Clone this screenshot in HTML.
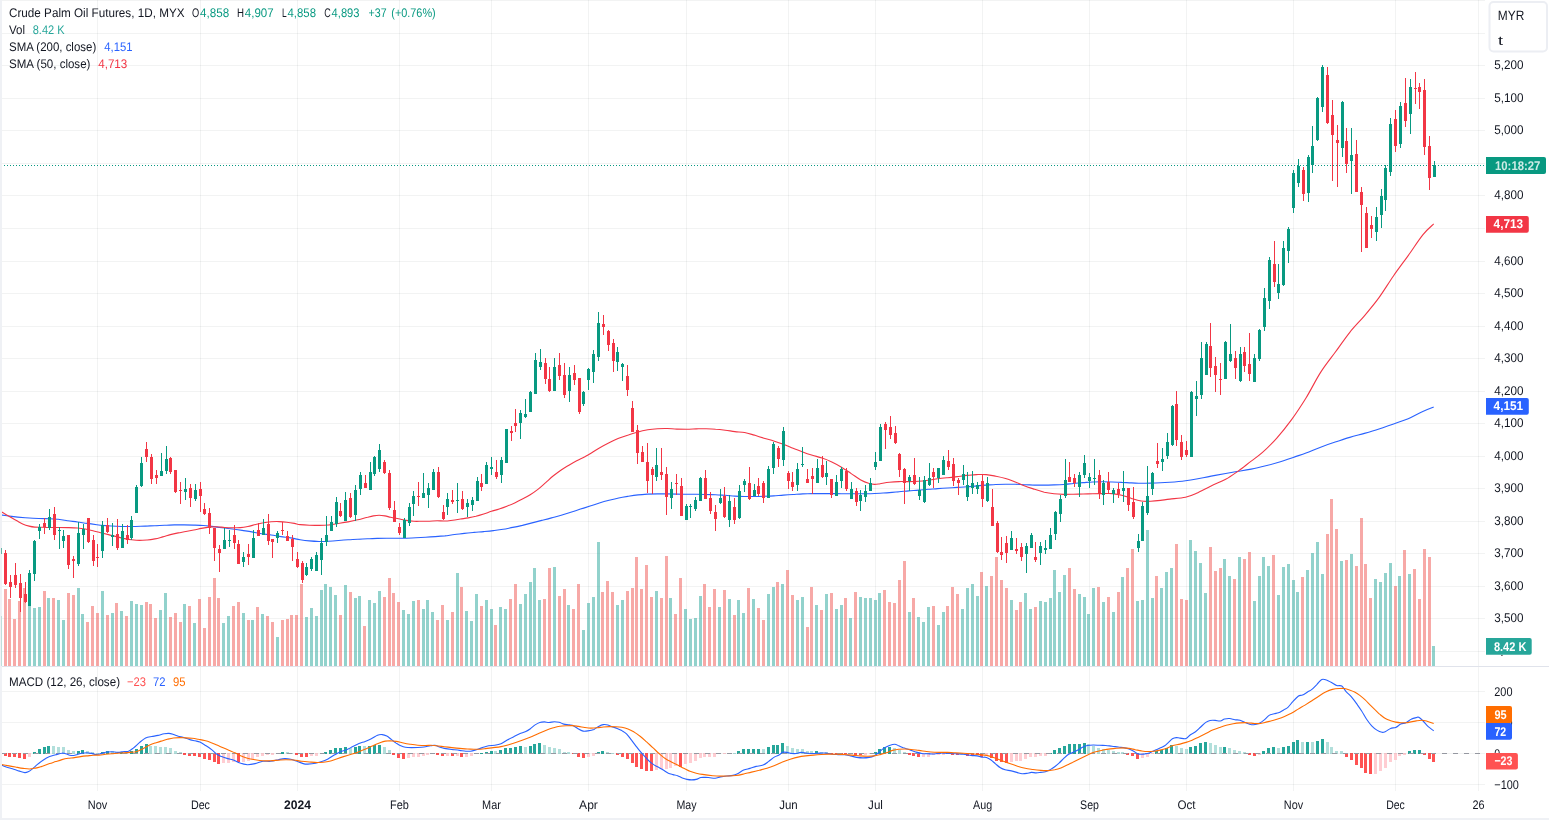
<!DOCTYPE html><html><head><meta charset="utf-8"><title>Crude Palm Oil Futures</title><style>html,body{margin:0;padding:0;background:#fff;overflow:hidden}</style></head><body><div style="will-change:transform;width:1549px;height:822px"><svg width="1549" height="822" viewBox="0 0 1549 822" style="display:block;font-family:'Liberation Sans',sans-serif" shape-rendering="crispEdges">
<rect width="1549" height="822" fill="#fff"/>
<line x1="0" y1="651.5" x2="1485" y2="651.5" stroke="rgba(42,46,57,0.06)"/>
<line x1="0" y1="618.5" x2="1485" y2="618.5" stroke="rgba(42,46,57,0.06)"/>
<line x1="0" y1="586.5" x2="1485" y2="586.5" stroke="rgba(42,46,57,0.06)"/>
<line x1="0" y1="553.5" x2="1485" y2="553.5" stroke="rgba(42,46,57,0.06)"/>
<line x1="0" y1="521.5" x2="1485" y2="521.5" stroke="rgba(42,46,57,0.06)"/>
<line x1="0" y1="488.5" x2="1485" y2="488.5" stroke="rgba(42,46,57,0.06)"/>
<line x1="0" y1="456.5" x2="1485" y2="456.5" stroke="rgba(42,46,57,0.06)"/>
<line x1="0" y1="423.5" x2="1485" y2="423.5" stroke="rgba(42,46,57,0.06)"/>
<line x1="0" y1="391.5" x2="1485" y2="391.5" stroke="rgba(42,46,57,0.06)"/>
<line x1="0" y1="358.5" x2="1485" y2="358.5" stroke="rgba(42,46,57,0.06)"/>
<line x1="0" y1="326.5" x2="1485" y2="326.5" stroke="rgba(42,46,57,0.06)"/>
<line x1="0" y1="293.5" x2="1485" y2="293.5" stroke="rgba(42,46,57,0.06)"/>
<line x1="0" y1="261.5" x2="1485" y2="261.5" stroke="rgba(42,46,57,0.06)"/>
<line x1="0" y1="228.5" x2="1485" y2="228.5" stroke="rgba(42,46,57,0.06)"/>
<line x1="0" y1="195.5" x2="1485" y2="195.5" stroke="rgba(42,46,57,0.06)"/>
<line x1="0" y1="163.5" x2="1485" y2="163.5" stroke="rgba(42,46,57,0.06)"/>
<line x1="0" y1="130.5" x2="1485" y2="130.5" stroke="rgba(42,46,57,0.06)"/>
<line x1="0" y1="98.5" x2="1485" y2="98.5" stroke="rgba(42,46,57,0.06)"/>
<line x1="0" y1="65.5" x2="1485" y2="65.5" stroke="rgba(42,46,57,0.06)"/>
<line x1="0" y1="33.5" x2="1485" y2="33.5" stroke="rgba(42,46,57,0.06)"/>
<line x1="0" y1="0.5" x2="1485" y2="0.5" stroke="rgba(42,46,57,0.06)"/>
<line x1="0" y1="691.5" x2="1485" y2="691.5" stroke="rgba(42,46,57,0.06)"/>
<line x1="0" y1="722.5" x2="1485" y2="722.5" stroke="rgba(42,46,57,0.06)"/>
<line x1="0" y1="784.5" x2="1485" y2="784.5" stroke="rgba(42,46,57,0.06)"/>
<line x1="97.5" y1="0" x2="97.5" y2="666" stroke="rgba(42,46,57,0.06)"/>
<line x1="97.5" y1="667" x2="97.5" y2="791" stroke="rgba(42,46,57,0.06)"/>
<line x1="200.5" y1="0" x2="200.5" y2="666" stroke="rgba(42,46,57,0.06)"/>
<line x1="200.5" y1="667" x2="200.5" y2="791" stroke="rgba(42,46,57,0.06)"/>
<line x1="297.5" y1="0" x2="297.5" y2="666" stroke="rgba(42,46,57,0.06)"/>
<line x1="297.5" y1="667" x2="297.5" y2="791" stroke="rgba(42,46,57,0.06)"/>
<line x1="399.5" y1="0" x2="399.5" y2="666" stroke="rgba(42,46,57,0.06)"/>
<line x1="399.5" y1="667" x2="399.5" y2="791" stroke="rgba(42,46,57,0.06)"/>
<line x1="491.5" y1="0" x2="491.5" y2="666" stroke="rgba(42,46,57,0.06)"/>
<line x1="491.5" y1="667" x2="491.5" y2="791" stroke="rgba(42,46,57,0.06)"/>
<line x1="588.5" y1="0" x2="588.5" y2="666" stroke="rgba(42,46,57,0.06)"/>
<line x1="588.5" y1="667" x2="588.5" y2="791" stroke="rgba(42,46,57,0.06)"/>
<line x1="686.5" y1="0" x2="686.5" y2="666" stroke="rgba(42,46,57,0.06)"/>
<line x1="686.5" y1="667" x2="686.5" y2="791" stroke="rgba(42,46,57,0.06)"/>
<line x1="788.5" y1="0" x2="788.5" y2="666" stroke="rgba(42,46,57,0.06)"/>
<line x1="788.5" y1="667" x2="788.5" y2="791" stroke="rgba(42,46,57,0.06)"/>
<line x1="875.5" y1="0" x2="875.5" y2="666" stroke="rgba(42,46,57,0.06)"/>
<line x1="875.5" y1="667" x2="875.5" y2="791" stroke="rgba(42,46,57,0.06)"/>
<line x1="982.5" y1="0" x2="982.5" y2="666" stroke="rgba(42,46,57,0.06)"/>
<line x1="982.5" y1="667" x2="982.5" y2="791" stroke="rgba(42,46,57,0.06)"/>
<line x1="1089.5" y1="0" x2="1089.5" y2="666" stroke="rgba(42,46,57,0.06)"/>
<line x1="1089.5" y1="667" x2="1089.5" y2="791" stroke="rgba(42,46,57,0.06)"/>
<line x1="1186.5" y1="0" x2="1186.5" y2="666" stroke="rgba(42,46,57,0.06)"/>
<line x1="1186.5" y1="667" x2="1186.5" y2="791" stroke="rgba(42,46,57,0.06)"/>
<line x1="1293.5" y1="0" x2="1293.5" y2="666" stroke="rgba(42,46,57,0.06)"/>
<line x1="1293.5" y1="667" x2="1293.5" y2="791" stroke="rgba(42,46,57,0.06)"/>
<line x1="1395.5" y1="0" x2="1395.5" y2="666" stroke="rgba(42,46,57,0.06)"/>
<line x1="1395.5" y1="667" x2="1395.5" y2="791" stroke="rgba(42,46,57,0.06)"/>
<line x1="1478.5" y1="0" x2="1478.5" y2="666" stroke="rgba(42,46,57,0.06)"/>
<line x1="1478.5" y1="667" x2="1478.5" y2="791" stroke="rgba(42,46,57,0.06)"/>
<rect x="4" y="589" width="3" height="77" fill="rgba(239,83,80,0.5)"/>
<rect x="8" y="599" width="3" height="67" fill="rgba(239,83,80,0.5)"/>
<rect x="13" y="619" width="3" height="47" fill="rgba(239,83,80,0.5)"/>
<rect x="18" y="601" width="3" height="65" fill="rgba(239,83,80,0.5)"/>
<rect x="23" y="588" width="3" height="78" fill="rgba(239,83,80,0.5)"/>
<rect x="28" y="606" width="3" height="60" fill="rgba(38,166,154,0.5)"/>
<rect x="33" y="608" width="3" height="58" fill="rgba(38,166,154,0.5)"/>
<rect x="38" y="607" width="3" height="59" fill="rgba(38,166,154,0.5)"/>
<rect x="43" y="591" width="3" height="75" fill="rgba(239,83,80,0.5)"/>
<rect x="47" y="598" width="3" height="68" fill="rgba(38,166,154,0.5)"/>
<rect x="52" y="598" width="3" height="68" fill="rgba(239,83,80,0.5)"/>
<rect x="57" y="600" width="3" height="66" fill="rgba(38,166,154,0.5)"/>
<rect x="62" y="620" width="3" height="46" fill="rgba(38,166,154,0.5)"/>
<rect x="67" y="593" width="3" height="73" fill="rgba(239,83,80,0.5)"/>
<rect x="72" y="595" width="3" height="71" fill="rgba(239,83,80,0.5)"/>
<rect x="77" y="588" width="3" height="78" fill="rgba(38,166,154,0.5)"/>
<rect x="81" y="614" width="3" height="52" fill="rgba(38,166,154,0.5)"/>
<rect x="86" y="622" width="3" height="44" fill="rgba(239,83,80,0.5)"/>
<rect x="91" y="606" width="3" height="60" fill="rgba(239,83,80,0.5)"/>
<rect x="96" y="613" width="3" height="53" fill="rgba(239,83,80,0.5)"/>
<rect x="101" y="591" width="3" height="75" fill="rgba(38,166,154,0.5)"/>
<rect x="106" y="615" width="3" height="51" fill="rgba(239,83,80,0.5)"/>
<rect x="111" y="613" width="3" height="53" fill="rgba(38,166,154,0.5)"/>
<rect x="115" y="603" width="3" height="63" fill="rgba(239,83,80,0.5)"/>
<rect x="120" y="611" width="3" height="55" fill="rgba(38,166,154,0.5)"/>
<rect x="125" y="616" width="3" height="50" fill="rgba(239,83,80,0.5)"/>
<rect x="130" y="601" width="3" height="65" fill="rgba(38,166,154,0.5)"/>
<rect x="135" y="604" width="3" height="62" fill="rgba(38,166,154,0.5)"/>
<rect x="140" y="605" width="3" height="61" fill="rgba(38,166,154,0.5)"/>
<rect x="145" y="602" width="3" height="64" fill="rgba(239,83,80,0.5)"/>
<rect x="149" y="604" width="3" height="62" fill="rgba(239,83,80,0.5)"/>
<rect x="154" y="618" width="3" height="48" fill="rgba(239,83,80,0.5)"/>
<rect x="159" y="610" width="3" height="56" fill="rgba(38,166,154,0.5)"/>
<rect x="164" y="593" width="3" height="73" fill="rgba(38,166,154,0.5)"/>
<rect x="169" y="617" width="3" height="49" fill="rgba(239,83,80,0.5)"/>
<rect x="174" y="613" width="3" height="53" fill="rgba(239,83,80,0.5)"/>
<rect x="179" y="622" width="3" height="44" fill="rgba(239,83,80,0.5)"/>
<rect x="183" y="604" width="3" height="62" fill="rgba(38,166,154,0.5)"/>
<rect x="188" y="606" width="3" height="60" fill="rgba(239,83,80,0.5)"/>
<rect x="193" y="623" width="3" height="43" fill="rgba(38,166,154,0.5)"/>
<rect x="198" y="599" width="3" height="67" fill="rgba(239,83,80,0.5)"/>
<rect x="203" y="628" width="3" height="38" fill="rgba(239,83,80,0.5)"/>
<rect x="208" y="597" width="3" height="69" fill="rgba(239,83,80,0.5)"/>
<rect x="213" y="578" width="3" height="88" fill="rgba(239,83,80,0.5)"/>
<rect x="217" y="598" width="3" height="68" fill="rgba(239,83,80,0.5)"/>
<rect x="222" y="623" width="3" height="43" fill="rgba(38,166,154,0.5)"/>
<rect x="227" y="616" width="3" height="50" fill="rgba(38,166,154,0.5)"/>
<rect x="232" y="606" width="3" height="60" fill="rgba(239,83,80,0.5)"/>
<rect x="237" y="602" width="3" height="64" fill="rgba(239,83,80,0.5)"/>
<rect x="242" y="613" width="3" height="53" fill="rgba(38,166,154,0.5)"/>
<rect x="247" y="620" width="3" height="46" fill="rgba(239,83,80,0.5)"/>
<rect x="251" y="620" width="3" height="46" fill="rgba(38,166,154,0.5)"/>
<rect x="256" y="607" width="3" height="59" fill="rgba(239,83,80,0.5)"/>
<rect x="261" y="614" width="3" height="52" fill="rgba(38,166,154,0.5)"/>
<rect x="266" y="616" width="3" height="50" fill="rgba(239,83,80,0.5)"/>
<rect x="271" y="622" width="3" height="44" fill="rgba(239,83,80,0.5)"/>
<rect x="276" y="637" width="3" height="29" fill="rgba(38,166,154,0.5)"/>
<rect x="281" y="620" width="3" height="46" fill="rgba(239,83,80,0.5)"/>
<rect x="286" y="619" width="3" height="47" fill="rgba(239,83,80,0.5)"/>
<rect x="290" y="615" width="3" height="51" fill="rgba(239,83,80,0.5)"/>
<rect x="295" y="615" width="3" height="51" fill="rgba(239,83,80,0.5)"/>
<rect x="300" y="584" width="3" height="82" fill="rgba(239,83,80,0.5)"/>
<rect x="305" y="617" width="3" height="49" fill="rgba(38,166,154,0.5)"/>
<rect x="310" y="608" width="3" height="58" fill="rgba(38,166,154,0.5)"/>
<rect x="315" y="616" width="3" height="50" fill="rgba(38,166,154,0.5)"/>
<rect x="320" y="590" width="3" height="76" fill="rgba(38,166,154,0.5)"/>
<rect x="324" y="584" width="3" height="82" fill="rgba(38,166,154,0.5)"/>
<rect x="329" y="587" width="3" height="79" fill="rgba(38,166,154,0.5)"/>
<rect x="334" y="595" width="3" height="71" fill="rgba(38,166,154,0.5)"/>
<rect x="339" y="615" width="3" height="51" fill="rgba(239,83,80,0.5)"/>
<rect x="344" y="585" width="3" height="81" fill="rgba(38,166,154,0.5)"/>
<rect x="349" y="592" width="3" height="74" fill="rgba(239,83,80,0.5)"/>
<rect x="354" y="598" width="3" height="68" fill="rgba(38,166,154,0.5)"/>
<rect x="358" y="596" width="3" height="70" fill="rgba(38,166,154,0.5)"/>
<rect x="363" y="626" width="3" height="40" fill="rgba(239,83,80,0.5)"/>
<rect x="368" y="600" width="3" height="66" fill="rgba(38,166,154,0.5)"/>
<rect x="373" y="603" width="3" height="63" fill="rgba(38,166,154,0.5)"/>
<rect x="378" y="591" width="3" height="75" fill="rgba(38,166,154,0.5)"/>
<rect x="383" y="597" width="3" height="69" fill="rgba(239,83,80,0.5)"/>
<rect x="388" y="578" width="3" height="88" fill="rgba(239,83,80,0.5)"/>
<rect x="392" y="593" width="3" height="73" fill="rgba(239,83,80,0.5)"/>
<rect x="397" y="602" width="3" height="64" fill="rgba(239,83,80,0.5)"/>
<rect x="402" y="610" width="3" height="56" fill="rgba(38,166,154,0.5)"/>
<rect x="407" y="614" width="3" height="52" fill="rgba(38,166,154,0.5)"/>
<rect x="412" y="601" width="3" height="65" fill="rgba(38,166,154,0.5)"/>
<rect x="417" y="600" width="3" height="66" fill="rgba(239,83,80,0.5)"/>
<rect x="422" y="609" width="3" height="57" fill="rgba(38,166,154,0.5)"/>
<rect x="426" y="600" width="3" height="66" fill="rgba(38,166,154,0.5)"/>
<rect x="431" y="612" width="3" height="54" fill="rgba(38,166,154,0.5)"/>
<rect x="436" y="620" width="3" height="46" fill="rgba(239,83,80,0.5)"/>
<rect x="441" y="605" width="3" height="61" fill="rgba(239,83,80,0.5)"/>
<rect x="446" y="620" width="3" height="46" fill="rgba(38,166,154,0.5)"/>
<rect x="451" y="612" width="3" height="54" fill="rgba(239,83,80,0.5)"/>
<rect x="456" y="573" width="3" height="93" fill="rgba(38,166,154,0.5)"/>
<rect x="460" y="587" width="3" height="79" fill="rgba(239,83,80,0.5)"/>
<rect x="465" y="611" width="3" height="55" fill="rgba(38,166,154,0.5)"/>
<rect x="470" y="621" width="3" height="45" fill="rgba(38,166,154,0.5)"/>
<rect x="475" y="594" width="3" height="72" fill="rgba(38,166,154,0.5)"/>
<rect x="480" y="606" width="3" height="60" fill="rgba(239,83,80,0.5)"/>
<rect x="485" y="600" width="3" height="66" fill="rgba(38,166,154,0.5)"/>
<rect x="490" y="609" width="3" height="57" fill="rgba(38,166,154,0.5)"/>
<rect x="494" y="625" width="3" height="41" fill="rgba(239,83,80,0.5)"/>
<rect x="499" y="607" width="3" height="59" fill="rgba(38,166,154,0.5)"/>
<rect x="504" y="609" width="3" height="57" fill="rgba(38,166,154,0.5)"/>
<rect x="509" y="599" width="3" height="67" fill="rgba(239,83,80,0.5)"/>
<rect x="514" y="584" width="3" height="82" fill="rgba(239,83,80,0.5)"/>
<rect x="519" y="604" width="3" height="62" fill="rgba(38,166,154,0.5)"/>
<rect x="524" y="594" width="3" height="72" fill="rgba(38,166,154,0.5)"/>
<rect x="529" y="582" width="3" height="84" fill="rgba(38,166,154,0.5)"/>
<rect x="533" y="568" width="3" height="98" fill="rgba(38,166,154,0.5)"/>
<rect x="538" y="600" width="3" height="66" fill="rgba(38,166,154,0.5)"/>
<rect x="543" y="599" width="3" height="67" fill="rgba(239,83,80,0.5)"/>
<rect x="548" y="568" width="3" height="98" fill="rgba(239,83,80,0.5)"/>
<rect x="553" y="567" width="3" height="99" fill="rgba(38,166,154,0.5)"/>
<rect x="558" y="596" width="3" height="70" fill="rgba(239,83,80,0.5)"/>
<rect x="563" y="589" width="3" height="77" fill="rgba(239,83,80,0.5)"/>
<rect x="567" y="605" width="3" height="61" fill="rgba(38,166,154,0.5)"/>
<rect x="572" y="609" width="3" height="57" fill="rgba(239,83,80,0.5)"/>
<rect x="577" y="584" width="3" height="82" fill="rgba(239,83,80,0.5)"/>
<rect x="582" y="630" width="3" height="36" fill="rgba(38,166,154,0.5)"/>
<rect x="587" y="603" width="3" height="63" fill="rgba(38,166,154,0.5)"/>
<rect x="592" y="597" width="3" height="69" fill="rgba(38,166,154,0.5)"/>
<rect x="597" y="542" width="3" height="124" fill="rgba(38,166,154,0.5)"/>
<rect x="601" y="592" width="3" height="74" fill="rgba(239,83,80,0.5)"/>
<rect x="606" y="581" width="3" height="85" fill="rgba(239,83,80,0.5)"/>
<rect x="611" y="592" width="3" height="74" fill="rgba(239,83,80,0.5)"/>
<rect x="616" y="605" width="3" height="61" fill="rgba(38,166,154,0.5)"/>
<rect x="621" y="600" width="3" height="66" fill="rgba(38,166,154,0.5)"/>
<rect x="626" y="591" width="3" height="75" fill="rgba(239,83,80,0.5)"/>
<rect x="631" y="588" width="3" height="78" fill="rgba(239,83,80,0.5)"/>
<rect x="635" y="557" width="3" height="109" fill="rgba(239,83,80,0.5)"/>
<rect x="640" y="589" width="3" height="77" fill="rgba(239,83,80,0.5)"/>
<rect x="645" y="565" width="3" height="101" fill="rgba(239,83,80,0.5)"/>
<rect x="650" y="597" width="3" height="69" fill="rgba(239,83,80,0.5)"/>
<rect x="655" y="591" width="3" height="75" fill="rgba(38,166,154,0.5)"/>
<rect x="660" y="598" width="3" height="68" fill="rgba(239,83,80,0.5)"/>
<rect x="665" y="556" width="3" height="110" fill="rgba(239,83,80,0.5)"/>
<rect x="669" y="598" width="3" height="68" fill="rgba(38,166,154,0.5)"/>
<rect x="674" y="614" width="3" height="52" fill="rgba(239,83,80,0.5)"/>
<rect x="679" y="578" width="3" height="88" fill="rgba(239,83,80,0.5)"/>
<rect x="684" y="609" width="3" height="57" fill="rgba(38,166,154,0.5)"/>
<rect x="689" y="619" width="3" height="47" fill="rgba(38,166,154,0.5)"/>
<rect x="694" y="618" width="3" height="48" fill="rgba(38,166,154,0.5)"/>
<rect x="699" y="596" width="3" height="70" fill="rgba(38,166,154,0.5)"/>
<rect x="703" y="584" width="3" height="82" fill="rgba(239,83,80,0.5)"/>
<rect x="708" y="607" width="3" height="59" fill="rgba(239,83,80,0.5)"/>
<rect x="713" y="589" width="3" height="77" fill="rgba(239,83,80,0.5)"/>
<rect x="718" y="607" width="3" height="59" fill="rgba(38,166,154,0.5)"/>
<rect x="723" y="590" width="3" height="76" fill="rgba(239,83,80,0.5)"/>
<rect x="728" y="599" width="3" height="67" fill="rgba(38,166,154,0.5)"/>
<rect x="733" y="615" width="3" height="51" fill="rgba(239,83,80,0.5)"/>
<rect x="737" y="600" width="3" height="66" fill="rgba(38,166,154,0.5)"/>
<rect x="742" y="613" width="3" height="53" fill="rgba(38,166,154,0.5)"/>
<rect x="747" y="588" width="3" height="78" fill="rgba(239,83,80,0.5)"/>
<rect x="752" y="599" width="3" height="67" fill="rgba(38,166,154,0.5)"/>
<rect x="757" y="608" width="3" height="58" fill="rgba(239,83,80,0.5)"/>
<rect x="762" y="620" width="3" height="46" fill="rgba(239,83,80,0.5)"/>
<rect x="767" y="594" width="3" height="72" fill="rgba(38,166,154,0.5)"/>
<rect x="772" y="587" width="3" height="79" fill="rgba(38,166,154,0.5)"/>
<rect x="776" y="582" width="3" height="84" fill="rgba(239,83,80,0.5)"/>
<rect x="781" y="584" width="3" height="82" fill="rgba(38,166,154,0.5)"/>
<rect x="786" y="570" width="3" height="96" fill="rgba(239,83,80,0.5)"/>
<rect x="791" y="595" width="3" height="71" fill="rgba(239,83,80,0.5)"/>
<rect x="796" y="600" width="3" height="66" fill="rgba(38,166,154,0.5)"/>
<rect x="801" y="597" width="3" height="69" fill="rgba(38,166,154,0.5)"/>
<rect x="806" y="627" width="3" height="39" fill="rgba(239,83,80,0.5)"/>
<rect x="810" y="587" width="3" height="79" fill="rgba(239,83,80,0.5)"/>
<rect x="815" y="605" width="3" height="61" fill="rgba(38,166,154,0.5)"/>
<rect x="820" y="610" width="3" height="56" fill="rgba(239,83,80,0.5)"/>
<rect x="825" y="594" width="3" height="72" fill="rgba(38,166,154,0.5)"/>
<rect x="830" y="593" width="3" height="73" fill="rgba(239,83,80,0.5)"/>
<rect x="835" y="609" width="3" height="57" fill="rgba(38,166,154,0.5)"/>
<rect x="840" y="605" width="3" height="61" fill="rgba(38,166,154,0.5)"/>
<rect x="844" y="598" width="3" height="68" fill="rgba(239,83,80,0.5)"/>
<rect x="849" y="618" width="3" height="48" fill="rgba(38,166,154,0.5)"/>
<rect x="854" y="592" width="3" height="74" fill="rgba(239,83,80,0.5)"/>
<rect x="859" y="597" width="3" height="69" fill="rgba(38,166,154,0.5)"/>
<rect x="864" y="598" width="3" height="68" fill="rgba(38,166,154,0.5)"/>
<rect x="869" y="598" width="3" height="68" fill="rgba(38,166,154,0.5)"/>
<rect x="874" y="600" width="3" height="66" fill="rgba(38,166,154,0.5)"/>
<rect x="878" y="593" width="3" height="73" fill="rgba(38,166,154,0.5)"/>
<rect x="883" y="590" width="3" height="76" fill="rgba(239,83,80,0.5)"/>
<rect x="888" y="602" width="3" height="64" fill="rgba(239,83,80,0.5)"/>
<rect x="893" y="603" width="3" height="63" fill="rgba(239,83,80,0.5)"/>
<rect x="898" y="580" width="3" height="86" fill="rgba(239,83,80,0.5)"/>
<rect x="903" y="561" width="3" height="105" fill="rgba(239,83,80,0.5)"/>
<rect x="908" y="612" width="3" height="54" fill="rgba(38,166,154,0.5)"/>
<rect x="912" y="598" width="3" height="68" fill="rgba(239,83,80,0.5)"/>
<rect x="917" y="617" width="3" height="49" fill="rgba(38,166,154,0.5)"/>
<rect x="922" y="622" width="3" height="44" fill="rgba(38,166,154,0.5)"/>
<rect x="927" y="607" width="3" height="59" fill="rgba(38,166,154,0.5)"/>
<rect x="932" y="606" width="3" height="60" fill="rgba(239,83,80,0.5)"/>
<rect x="937" y="625" width="3" height="41" fill="rgba(38,166,154,0.5)"/>
<rect x="942" y="612" width="3" height="54" fill="rgba(38,166,154,0.5)"/>
<rect x="946" y="606" width="3" height="60" fill="rgba(239,83,80,0.5)"/>
<rect x="951" y="587" width="3" height="79" fill="rgba(239,83,80,0.5)"/>
<rect x="956" y="594" width="3" height="72" fill="rgba(239,83,80,0.5)"/>
<rect x="961" y="609" width="3" height="57" fill="rgba(38,166,154,0.5)"/>
<rect x="966" y="588" width="3" height="78" fill="rgba(38,166,154,0.5)"/>
<rect x="971" y="584" width="3" height="82" fill="rgba(38,166,154,0.5)"/>
<rect x="976" y="596" width="3" height="70" fill="rgba(38,166,154,0.5)"/>
<rect x="980" y="572" width="3" height="94" fill="rgba(239,83,80,0.5)"/>
<rect x="985" y="586" width="3" height="80" fill="rgba(38,166,154,0.5)"/>
<rect x="990" y="576" width="3" height="90" fill="rgba(239,83,80,0.5)"/>
<rect x="995" y="557" width="3" height="109" fill="rgba(239,83,80,0.5)"/>
<rect x="1000" y="580" width="3" height="86" fill="rgba(239,83,80,0.5)"/>
<rect x="1005" y="588" width="3" height="78" fill="rgba(239,83,80,0.5)"/>
<rect x="1010" y="600" width="3" height="66" fill="rgba(38,166,154,0.5)"/>
<rect x="1015" y="610" width="3" height="56" fill="rgba(239,83,80,0.5)"/>
<rect x="1019" y="602" width="3" height="64" fill="rgba(239,83,80,0.5)"/>
<rect x="1024" y="593" width="3" height="73" fill="rgba(38,166,154,0.5)"/>
<rect x="1029" y="609" width="3" height="57" fill="rgba(38,166,154,0.5)"/>
<rect x="1034" y="607" width="3" height="59" fill="rgba(239,83,80,0.5)"/>
<rect x="1039" y="601" width="3" height="65" fill="rgba(38,166,154,0.5)"/>
<rect x="1044" y="602" width="3" height="64" fill="rgba(38,166,154,0.5)"/>
<rect x="1049" y="598" width="3" height="68" fill="rgba(38,166,154,0.5)"/>
<rect x="1053" y="570" width="3" height="96" fill="rgba(38,166,154,0.5)"/>
<rect x="1058" y="592" width="3" height="74" fill="rgba(38,166,154,0.5)"/>
<rect x="1063" y="575" width="3" height="91" fill="rgba(38,166,154,0.5)"/>
<rect x="1068" y="568" width="3" height="98" fill="rgba(239,83,80,0.5)"/>
<rect x="1073" y="589" width="3" height="77" fill="rgba(239,83,80,0.5)"/>
<rect x="1078" y="594" width="3" height="72" fill="rgba(38,166,154,0.5)"/>
<rect x="1083" y="597" width="3" height="69" fill="rgba(38,166,154,0.5)"/>
<rect x="1087" y="614" width="3" height="52" fill="rgba(38,166,154,0.5)"/>
<rect x="1092" y="588" width="3" height="78" fill="rgba(38,166,154,0.5)"/>
<rect x="1097" y="587" width="3" height="79" fill="rgba(239,83,80,0.5)"/>
<rect x="1102" y="602" width="3" height="64" fill="rgba(38,166,154,0.5)"/>
<rect x="1107" y="597" width="3" height="69" fill="rgba(239,83,80,0.5)"/>
<rect x="1112" y="612" width="3" height="54" fill="rgba(38,166,154,0.5)"/>
<rect x="1117" y="592" width="3" height="74" fill="rgba(239,83,80,0.5)"/>
<rect x="1121" y="577" width="3" height="89" fill="rgba(38,166,154,0.5)"/>
<rect x="1126" y="568" width="3" height="98" fill="rgba(239,83,80,0.5)"/>
<rect x="1131" y="549" width="3" height="117" fill="rgba(239,83,80,0.5)"/>
<rect x="1136" y="601" width="3" height="65" fill="rgba(38,166,154,0.5)"/>
<rect x="1141" y="600" width="3" height="66" fill="rgba(38,166,154,0.5)"/>
<rect x="1146" y="530" width="3" height="136" fill="rgba(38,166,154,0.5)"/>
<rect x="1151" y="598" width="3" height="68" fill="rgba(38,166,154,0.5)"/>
<rect x="1155" y="576" width="3" height="90" fill="rgba(239,83,80,0.5)"/>
<rect x="1160" y="588" width="3" height="78" fill="rgba(38,166,154,0.5)"/>
<rect x="1165" y="572" width="3" height="94" fill="rgba(38,166,154,0.5)"/>
<rect x="1170" y="568" width="3" height="98" fill="rgba(38,166,154,0.5)"/>
<rect x="1175" y="544" width="3" height="122" fill="rgba(239,83,80,0.5)"/>
<rect x="1180" y="599" width="3" height="67" fill="rgba(239,83,80,0.5)"/>
<rect x="1185" y="600" width="3" height="66" fill="rgba(239,83,80,0.5)"/>
<rect x="1189" y="540" width="3" height="126" fill="rgba(38,166,154,0.5)"/>
<rect x="1194" y="551" width="3" height="115" fill="rgba(38,166,154,0.5)"/>
<rect x="1199" y="563" width="3" height="103" fill="rgba(38,166,154,0.5)"/>
<rect x="1204" y="593" width="3" height="73" fill="rgba(38,166,154,0.5)"/>
<rect x="1209" y="547" width="3" height="119" fill="rgba(239,83,80,0.5)"/>
<rect x="1214" y="571" width="3" height="95" fill="rgba(239,83,80,0.5)"/>
<rect x="1219" y="568" width="3" height="98" fill="rgba(239,83,80,0.5)"/>
<rect x="1223" y="559" width="3" height="107" fill="rgba(38,166,154,0.5)"/>
<rect x="1228" y="576" width="3" height="90" fill="rgba(38,166,154,0.5)"/>
<rect x="1233" y="579" width="3" height="87" fill="rgba(239,83,80,0.5)"/>
<rect x="1238" y="557" width="3" height="109" fill="rgba(38,166,154,0.5)"/>
<rect x="1243" y="559" width="3" height="107" fill="rgba(239,83,80,0.5)"/>
<rect x="1248" y="552" width="3" height="114" fill="rgba(239,83,80,0.5)"/>
<rect x="1253" y="601" width="3" height="65" fill="rgba(38,166,154,0.5)"/>
<rect x="1258" y="576" width="3" height="90" fill="rgba(38,166,154,0.5)"/>
<rect x="1262" y="557" width="3" height="109" fill="rgba(38,166,154,0.5)"/>
<rect x="1267" y="566" width="3" height="100" fill="rgba(38,166,154,0.5)"/>
<rect x="1272" y="555" width="3" height="111" fill="rgba(239,83,80,0.5)"/>
<rect x="1277" y="595" width="3" height="71" fill="rgba(38,166,154,0.5)"/>
<rect x="1282" y="567" width="3" height="99" fill="rgba(38,166,154,0.5)"/>
<rect x="1287" y="564" width="3" height="102" fill="rgba(38,166,154,0.5)"/>
<rect x="1292" y="580" width="3" height="86" fill="rgba(38,166,154,0.5)"/>
<rect x="1296" y="592" width="3" height="74" fill="rgba(38,166,154,0.5)"/>
<rect x="1301" y="577" width="3" height="89" fill="rgba(239,83,80,0.5)"/>
<rect x="1306" y="570" width="3" height="96" fill="rgba(38,166,154,0.5)"/>
<rect x="1311" y="553" width="3" height="113" fill="rgba(38,166,154,0.5)"/>
<rect x="1316" y="542" width="3" height="124" fill="rgba(38,166,154,0.5)"/>
<rect x="1321" y="574" width="3" height="92" fill="rgba(38,166,154,0.5)"/>
<rect x="1326" y="534" width="3" height="132" fill="rgba(239,83,80,0.5)"/>
<rect x="1330" y="499" width="3" height="167" fill="rgba(239,83,80,0.5)"/>
<rect x="1335" y="529" width="3" height="137" fill="rgba(239,83,80,0.5)"/>
<rect x="1340" y="561" width="3" height="105" fill="rgba(38,166,154,0.5)"/>
<rect x="1345" y="560" width="3" height="106" fill="rgba(239,83,80,0.5)"/>
<rect x="1350" y="554" width="3" height="112" fill="rgba(38,166,154,0.5)"/>
<rect x="1355" y="566" width="3" height="100" fill="rgba(239,83,80,0.5)"/>
<rect x="1360" y="518" width="3" height="148" fill="rgba(239,83,80,0.5)"/>
<rect x="1364" y="564" width="3" height="102" fill="rgba(239,83,80,0.5)"/>
<rect x="1369" y="598" width="3" height="68" fill="rgba(239,83,80,0.5)"/>
<rect x="1374" y="579" width="3" height="87" fill="rgba(38,166,154,0.5)"/>
<rect x="1379" y="582" width="3" height="84" fill="rgba(38,166,154,0.5)"/>
<rect x="1384" y="573" width="3" height="93" fill="rgba(38,166,154,0.5)"/>
<rect x="1389" y="563" width="3" height="103" fill="rgba(38,166,154,0.5)"/>
<rect x="1394" y="586" width="3" height="80" fill="rgba(239,83,80,0.5)"/>
<rect x="1398" y="576" width="3" height="90" fill="rgba(38,166,154,0.5)"/>
<rect x="1403" y="550" width="3" height="116" fill="rgba(239,83,80,0.5)"/>
<rect x="1408" y="574" width="3" height="92" fill="rgba(38,166,154,0.5)"/>
<rect x="1413" y="569" width="3" height="97" fill="rgba(239,83,80,0.5)"/>
<rect x="1418" y="599" width="3" height="67" fill="rgba(239,83,80,0.5)"/>
<rect x="1423" y="549" width="3" height="117" fill="rgba(239,83,80,0.5)"/>
<rect x="1428" y="557" width="3" height="109" fill="rgba(239,83,80,0.5)"/>
<rect x="1432" y="646" width="3" height="20" fill="rgba(38,166,154,0.5)"/>
<path d="M1.0,514.9 C2.8,515.1 7.6,515.9 11.6,516.4 C15.6,516.9 20.7,517.4 25.2,517.8 C29.7,518.1 34.5,518.4 38.7,518.5 C42.9,518.6 47.2,518.6 50.4,518.7 C53.6,518.8 55.2,519.0 58.1,519.3 C61.0,519.6 64.6,520.2 67.8,520.7 C71.0,521.2 74.3,521.5 77.5,522.0 C80.7,522.5 84.0,522.9 87.2,523.4 C90.4,523.9 93.6,524.3 96.8,524.7 C100.0,525.1 103.3,525.4 106.5,525.7 C109.7,526.0 113.0,526.2 116.2,526.3 C119.4,526.4 122.7,526.5 125.9,526.5 C129.1,526.5 132.4,526.6 135.6,526.5 C138.8,526.4 142.1,526.2 145.3,526.1 C148.5,526.0 151.7,525.8 154.9,525.7 C158.1,525.6 161.4,525.4 164.6,525.3 C167.8,525.2 171.1,525.0 174.3,524.9 C177.5,524.8 180.8,524.9 184.0,524.9 C187.2,524.9 190.5,525.0 193.7,525.1 C196.9,525.2 200.8,525.3 203.4,525.5 C206.0,525.7 206.9,525.8 209.2,526.1 C211.4,526.4 214.3,526.8 216.9,527.1 C219.5,527.4 222.1,527.7 224.7,528.0 C227.3,528.3 229.5,528.6 232.4,529.0 C235.3,529.4 238.9,529.9 242.1,530.4 C245.3,530.9 248.6,531.3 251.8,531.9 C255.0,532.5 258.3,533.2 261.5,533.7 C264.7,534.2 268.0,534.5 271.2,535.0 C274.4,535.5 277.6,536.1 280.8,536.6 C284.0,537.1 287.3,537.4 290.5,537.9 C293.7,538.4 297.0,539.2 300.1,539.7 C303.2,540.2 306.2,540.6 309.4,540.9 C312.6,541.2 315.9,541.4 319.1,541.5 C322.3,541.6 325.5,541.5 328.7,541.3 C331.9,541.1 335.2,540.8 338.4,540.5 C341.6,540.2 344.9,539.9 348.1,539.7 C351.3,539.5 354.6,539.4 357.8,539.2 C361.0,539.1 364.3,538.9 367.5,538.8 C370.7,538.7 374.0,538.5 377.2,538.4 C380.4,538.3 383.6,538.2 386.8,538.2 C390.0,538.2 393.3,538.2 396.5,538.2 C399.7,538.2 403.0,538.3 406.2,538.2 C409.4,538.1 412.7,538.0 415.9,537.8 C419.1,537.6 422.4,537.4 425.6,537.2 C428.8,537.0 432.1,536.8 435.3,536.6 C438.5,536.4 441.7,536.2 444.9,535.9 C448.1,535.5 451.4,534.9 454.6,534.5 C457.8,534.1 461.1,533.8 464.3,533.4 C467.5,533.0 470.8,532.7 474.0,532.4 C477.2,532.1 480.5,531.9 483.7,531.6 C486.9,531.3 490.2,531.0 493.4,530.6 C496.6,530.2 499.9,529.8 503.1,529.3 C506.3,528.8 509.5,528.0 512.7,527.4 C515.9,526.8 519.2,526.1 522.4,525.4 C525.6,524.6 528.9,523.7 532.1,522.9 C535.3,522.1 538.6,521.2 541.8,520.4 C545.0,519.6 548.3,518.8 551.5,517.9 C554.7,517.0 558.0,516.2 561.2,515.2 C564.4,514.2 567.6,513.2 570.8,512.2 C574.0,511.2 577.3,510.1 580.5,509.1 C583.7,508.1 587.0,507.1 590.1,506.1 C593.2,505.1 596.2,504.0 599.4,503.0 C602.6,502.0 605.9,501.1 609.1,500.3 C612.3,499.5 615.5,498.7 618.7,498.0 C621.9,497.3 625.2,496.8 628.4,496.3 C631.6,495.8 634.9,495.3 638.1,494.9 C641.3,494.5 644.6,494.3 647.8,494.1 C651.0,493.9 654.3,493.9 657.5,493.9 C660.7,493.9 664.0,493.9 667.2,493.9 C670.4,493.9 673.6,494.0 676.8,494.1 C680.0,494.2 683.3,494.3 686.5,494.3 C689.7,494.3 693.0,494.3 696.2,494.3 C699.4,494.3 702.7,494.4 705.9,494.5 C709.1,494.6 712.4,494.6 715.6,494.7 C718.8,494.8 722.1,495.1 725.3,495.3 C728.5,495.5 731.7,495.9 734.9,496.1 C738.1,496.3 741.4,496.4 744.6,496.5 C747.8,496.6 751.1,496.5 754.3,496.5 C757.5,496.5 760.8,496.4 764.0,496.3 C767.2,496.2 770.5,496.1 773.7,495.9 C776.9,495.7 780.2,495.3 783.4,495.1 C786.6,494.9 789.9,494.7 793.1,494.5 C796.3,494.3 799.5,494.0 802.7,493.9 C805.9,493.8 809.2,493.7 812.4,493.6 C815.6,493.6 818.9,493.6 822.1,493.6 C825.3,493.6 828.6,493.6 831.8,493.6 C835.0,493.6 838.3,493.7 841.5,493.7 C844.7,493.7 848.0,493.7 851.2,493.7 C854.4,493.7 857.6,493.7 860.8,493.7 C864.0,493.7 867.3,493.8 870.5,493.7 C873.7,493.6 877.0,493.4 880.1,493.2 C883.2,493.0 886.2,492.9 889.4,492.6 C892.6,492.4 895.9,492.0 899.1,491.7 C902.3,491.4 905.5,491.2 908.7,490.9 C911.9,490.6 915.2,490.4 918.4,490.1 C921.6,489.8 924.9,489.6 928.1,489.3 C931.3,489.1 934.6,488.8 937.8,488.6 C941.0,488.4 944.3,488.2 947.5,488.0 C950.7,487.8 954.0,487.6 957.2,487.4 C960.4,487.2 963.6,487.1 966.8,486.8 C970.0,486.6 973.3,486.2 976.5,485.9 C979.7,485.6 983.0,485.3 986.2,485.1 C989.4,484.9 992.7,484.6 995.9,484.5 C999.1,484.4 1002.4,484.3 1005.6,484.3 C1008.8,484.3 1012.1,484.2 1015.3,484.3 C1018.5,484.4 1021.7,484.6 1024.9,484.7 C1028.1,484.8 1031.4,485.0 1034.6,485.1 C1037.8,485.2 1041.1,485.1 1044.3,485.1 C1047.5,485.1 1050.8,485.0 1054.0,484.9 C1057.2,484.8 1060.5,484.7 1063.7,484.5 C1066.9,484.3 1070.2,483.8 1073.4,483.5 C1076.6,483.2 1079.9,482.9 1083.1,482.6 C1086.3,482.4 1089.5,482.1 1092.7,482.0 C1095.9,481.9 1099.2,481.8 1102.4,481.8 C1105.6,481.8 1108.9,481.9 1112.1,482.0 C1115.3,482.1 1118.6,482.2 1121.8,482.4 C1125.0,482.5 1128.3,482.8 1131.5,482.9 C1134.7,483.0 1138.0,483.3 1141.2,483.3 C1144.4,483.3 1147.6,483.2 1150.8,483.1 C1154.0,483.0 1157.3,482.9 1160.5,482.8 C1163.7,482.7 1165.7,482.6 1169.9,482.3 C1174.1,482.0 1181.1,481.4 1185.5,480.8 C1189.9,480.2 1192.2,479.8 1196.5,479.0 C1200.8,478.2 1206.2,477.0 1211.1,476.1 C1216.0,475.2 1221.1,474.3 1225.7,473.5 C1230.3,472.7 1234.2,472.0 1238.5,471.3 C1242.8,470.6 1246.7,470.0 1251.2,469.1 C1255.8,468.2 1260.9,467.0 1265.8,465.8 C1270.7,464.6 1275.8,463.2 1280.4,461.8 C1285.0,460.4 1288.9,458.8 1293.2,457.4 C1297.5,455.9 1301.4,454.8 1306.0,453.1 C1310.6,451.4 1315.7,449.0 1320.6,447.2 C1325.5,445.4 1330.3,443.7 1335.2,442.1 C1340.1,440.5 1344.9,438.8 1349.8,437.4 C1354.7,435.9 1359.5,434.8 1364.4,433.4 C1369.3,432.0 1374.1,430.6 1379.0,429.0 C1383.9,427.4 1388.7,425.6 1393.6,423.9 C1398.5,422.2 1403.3,420.9 1408.2,418.8 C1413.1,416.7 1418.5,413.4 1422.8,411.5 C1427.0,409.6 1431.9,407.8 1433.7,407.1" fill="none" stroke="#2962ff" stroke-width="1.1" shape-rendering="geometricPrecision"/>
<path d="M1.0,511.6 C1.8,512.1 4.0,513.5 5.8,514.5 C7.6,515.5 9.7,516.7 11.6,517.8 C13.5,518.9 15.5,520.0 17.4,521.1 C19.3,522.2 21.2,523.4 23.2,524.2 C25.1,525.0 27.2,525.6 29.1,526.1 C31.1,526.6 32.6,526.9 34.9,527.1 C37.1,527.3 40.0,527.2 42.6,527.3 C45.2,527.4 47.8,527.5 50.4,527.5 C53.0,527.5 55.2,527.5 58.1,527.5 C61.0,527.5 64.6,527.5 67.8,527.6 C71.0,527.7 74.6,527.8 77.5,528.0 C80.4,528.2 82.6,528.5 85.2,529.0 C87.8,529.5 90.4,530.1 93.0,530.7 C95.6,531.3 98.1,532.1 100.7,532.7 C103.3,533.4 105.9,534.0 108.5,534.6 C111.1,535.2 113.6,536.0 116.2,536.6 C118.8,537.2 121.4,538.0 124.0,538.5 C126.6,539.0 129.1,539.5 131.7,539.8 C134.3,540.1 136.9,540.4 139.5,540.4 C142.1,540.4 144.6,540.2 147.2,540.0 C149.8,539.8 152.3,539.4 154.9,538.9 C157.5,538.4 160.1,537.6 162.7,536.9 C165.3,536.2 167.8,535.3 170.4,534.6 C173.0,533.9 175.6,533.4 178.2,532.9 C180.8,532.4 183.3,532.0 185.9,531.5 C188.5,531.0 191.1,530.5 193.7,530.0 C196.3,529.5 198.8,528.9 201.4,528.4 C204.0,527.9 206.6,527.4 209.2,527.1 C211.8,526.8 214.3,526.6 216.9,526.7 C219.5,526.8 222.1,527.3 224.7,527.5 C227.3,527.7 229.8,527.8 232.4,527.8 C235.0,527.8 237.6,527.8 240.2,527.6 C242.8,527.4 245.3,527.0 247.9,526.5 C250.5,526.0 253.1,525.1 255.7,524.5 C258.3,523.9 260.8,523.2 263.4,522.8 C266.0,522.3 268.6,522.0 271.2,521.8 C273.8,521.6 276.3,521.5 278.9,521.6 C281.5,521.7 284.1,521.9 286.7,522.2 C289.3,522.5 292.2,523.0 294.4,523.4 C296.6,523.8 297.6,524.3 300.1,524.6 C302.6,524.9 306.2,525.1 309.4,525.2 C312.6,525.3 315.9,525.4 319.1,525.4 C322.3,525.4 325.5,525.3 328.7,525.0 C331.9,524.7 335.2,524.0 338.4,523.5 C341.6,523.0 344.9,522.5 348.1,521.9 C351.3,521.3 354.6,520.6 357.8,519.8 C361.0,519.0 364.9,517.9 367.5,517.3 C370.1,516.6 371.4,516.2 373.3,515.9 C375.2,515.6 377.2,515.3 379.1,515.3 C381.0,515.3 383.0,515.6 384.9,515.9 C386.8,516.2 388.4,516.8 390.7,517.3 C393.0,517.8 395.9,518.3 398.5,518.8 C401.1,519.3 403.6,520.0 406.2,520.4 C408.8,520.8 411.4,521.1 414.0,521.3 C416.6,521.4 419.1,521.3 421.7,521.3 C424.3,521.3 426.9,521.3 429.5,521.2 C432.1,521.1 434.6,520.8 437.2,520.8 C439.8,520.8 442.3,521.1 444.9,521.0 C447.5,520.9 450.1,520.5 452.7,520.2 C455.3,519.9 457.8,519.4 460.4,519.0 C463.0,518.6 465.6,518.4 468.2,517.9 C470.8,517.4 473.3,516.9 475.9,516.3 C478.5,515.6 481.1,514.8 483.7,514.0 C486.3,513.2 488.8,512.1 491.4,511.3 C494.0,510.5 496.6,509.9 499.2,509.0 C501.8,508.1 504.3,507.2 506.9,506.2 C509.5,505.2 512.1,504.1 514.7,502.9 C517.3,501.7 519.8,500.5 522.4,499.1 C525.0,497.8 527.6,496.4 530.2,494.8 C532.8,493.2 535.3,491.4 537.9,489.4 C540.5,487.4 543.1,484.9 545.7,482.6 C548.3,480.3 550.8,477.9 553.4,475.8 C556.0,473.7 558.6,471.8 561.2,470.0 C563.8,468.2 566.3,466.8 568.9,465.2 C571.5,463.6 574.1,462.1 576.7,460.7 C579.3,459.3 582.2,458.1 584.4,456.9 C586.6,455.7 587.6,455.2 590.1,453.7 C592.6,452.2 596.2,449.8 599.4,448.0 C602.6,446.2 605.9,444.4 609.1,442.8 C612.3,441.2 615.5,439.6 618.7,438.3 C621.9,437.0 625.2,435.9 628.4,434.9 C631.6,433.8 634.9,432.9 638.1,432.0 C641.3,431.1 644.6,430.4 647.8,429.8 C651.0,429.2 654.3,428.9 657.5,428.7 C660.7,428.5 664.0,428.4 667.2,428.5 C670.4,428.6 673.6,429.0 676.8,429.1 C680.0,429.2 683.3,429.2 686.5,429.2 C689.7,429.2 693.0,429.0 696.2,428.9 C699.4,428.8 702.7,428.6 705.9,428.7 C709.1,428.8 712.4,428.9 715.6,429.2 C718.8,429.4 722.1,429.8 725.3,430.2 C728.5,430.6 731.7,431.2 734.9,431.6 C738.1,432.0 741.4,431.9 744.6,432.5 C747.8,433.1 751.1,434.2 754.3,435.1 C757.5,436.1 760.8,437.2 764.0,438.2 C767.2,439.2 770.5,439.9 773.7,440.9 C776.9,441.9 780.2,443.0 783.4,444.2 C786.6,445.4 789.9,446.9 793.1,448.2 C796.3,449.5 799.5,450.7 802.7,451.9 C805.9,453.1 809.2,454.2 812.4,455.2 C815.6,456.2 818.9,457.0 822.1,458.1 C825.3,459.2 828.6,460.5 831.8,462.0 C835.0,463.5 838.3,465.3 841.5,467.2 C844.7,469.1 848.0,471.5 851.2,473.6 C854.4,475.7 857.9,478.4 860.8,480.0 C863.7,481.6 866.3,482.6 868.6,483.3 C870.9,484.0 872.5,484.3 874.4,484.4 C876.3,484.5 877.6,484.1 880.1,483.7 C882.6,483.3 886.2,482.5 889.4,482.2 C892.6,481.9 895.9,481.7 899.1,481.6 C902.3,481.5 905.5,481.7 908.7,481.6 C911.9,481.5 915.2,481.4 918.4,481.2 C921.6,481.0 924.9,480.6 928.1,480.2 C931.3,479.8 934.6,479.1 937.8,478.7 C941.0,478.3 944.3,478.0 947.5,477.7 C950.7,477.4 954.0,477.0 957.2,476.6 C960.4,476.2 963.6,475.7 966.8,475.4 C970.0,475.1 973.3,474.7 976.5,474.6 C979.7,474.5 983.0,474.3 986.2,474.6 C989.4,474.9 992.7,475.6 995.9,476.2 C999.1,476.8 1002.4,477.5 1005.6,478.5 C1008.8,479.5 1012.1,480.8 1015.3,482.0 C1018.5,483.2 1021.7,484.7 1024.9,485.9 C1028.1,487.1 1031.4,488.2 1034.6,489.3 C1037.8,490.4 1041.1,491.4 1044.3,492.2 C1047.5,492.9 1050.8,493.4 1054.0,493.8 C1057.2,494.2 1060.5,494.3 1063.7,494.4 C1066.9,494.5 1070.2,494.3 1073.4,494.2 C1076.6,494.1 1079.9,494.1 1083.1,494.0 C1086.3,493.9 1089.5,493.9 1092.7,493.8 C1095.9,493.7 1099.2,493.6 1102.4,493.6 C1105.6,493.6 1108.9,493.3 1112.1,493.6 C1115.3,493.9 1118.6,494.4 1121.8,495.2 C1125.0,496.0 1128.3,497.4 1131.5,498.4 C1134.7,499.4 1138.0,500.5 1141.2,501.0 C1144.4,501.5 1147.6,501.4 1150.8,501.3 C1154.0,501.2 1157.3,500.8 1160.5,500.4 C1163.7,500.0 1165.7,499.6 1169.9,499.1 C1174.1,498.6 1181.1,498.2 1185.5,497.2 C1189.9,496.2 1192.2,495.1 1196.5,493.2 C1200.8,491.3 1206.2,488.2 1211.1,485.9 C1216.0,483.6 1221.1,481.8 1225.7,479.3 C1230.3,476.8 1234.2,473.9 1238.5,470.9 C1242.8,467.9 1247.2,464.1 1251.2,461.1 C1255.2,458.1 1257.9,456.5 1262.2,452.7 C1266.5,448.9 1271.9,443.6 1276.8,438.1 C1281.7,432.6 1286.5,426.6 1291.4,419.9 C1296.3,413.2 1301.1,405.9 1306.0,398.0 C1310.9,390.1 1315.7,380.0 1320.6,372.4 C1325.5,364.8 1330.3,359.0 1335.2,352.3 C1340.1,345.6 1344.9,338.4 1349.8,332.3 C1354.7,326.2 1359.5,321.6 1364.4,315.8 C1369.3,310.0 1374.1,304.3 1379.0,297.6 C1383.9,290.9 1388.7,282.7 1393.6,275.7 C1398.5,268.7 1403.3,262.4 1408.2,255.6 C1413.1,248.8 1418.5,240.1 1422.8,234.8 C1427.0,229.5 1431.9,225.7 1433.7,223.9" fill="none" stroke="#f23645" stroke-width="1.1" shape-rendering="geometricPrecision"/>
<line x1="1" y1="165.5" x2="1484" y2="165.5" stroke="#089981" stroke-dasharray="1 2"/>
<rect x="5" y="550" width="1" height="35" fill="#f23645"/>
<rect x="4" y="553" width="3" height="31" fill="#f23645"/>
<rect x="10" y="575" width="1" height="23" fill="#f23645"/>
<rect x="9" y="582" width="3" height="5" fill="#f23645"/>
<rect x="15" y="563" width="1" height="25" fill="#f23645"/>
<rect x="14" y="575" width="3" height="10" fill="#f23645"/>
<rect x="20" y="574" width="1" height="38" fill="#f23645"/>
<rect x="19" y="583" width="3" height="15" fill="#f23645"/>
<rect x="25" y="582" width="1" height="21" fill="#f23645"/>
<rect x="24" y="594" width="3" height="8" fill="#f23645"/>
<rect x="29" y="570" width="1" height="36" fill="#089981"/>
<rect x="28" y="573" width="3" height="33" fill="#089981"/>
<rect x="34" y="540" width="1" height="41" fill="#089981"/>
<rect x="33" y="541" width="3" height="33" fill="#089981"/>
<rect x="39" y="524" width="1" height="15" fill="#089981"/>
<rect x="38" y="527" width="3" height="4" fill="#089981"/>
<rect x="44" y="518" width="1" height="16" fill="#f23645"/>
<rect x="43" y="523" width="3" height="4" fill="#f23645"/>
<rect x="49" y="509" width="1" height="21" fill="#089981"/>
<rect x="48" y="517" width="3" height="11" fill="#089981"/>
<rect x="54" y="507" width="1" height="33" fill="#f23645"/>
<rect x="53" y="514" width="3" height="21" fill="#f23645"/>
<rect x="59" y="527" width="1" height="22" fill="#089981"/>
<rect x="58" y="530" width="3" height="1" fill="#089981"/>
<rect x="63" y="530" width="1" height="18" fill="#089981"/>
<rect x="62" y="536" width="3" height="5" fill="#089981"/>
<rect x="68" y="535" width="1" height="34" fill="#f23645"/>
<rect x="67" y="535" width="3" height="30" fill="#f23645"/>
<rect x="73" y="556" width="1" height="22" fill="#f23645"/>
<rect x="72" y="559" width="3" height="2" fill="#f23645"/>
<rect x="78" y="522" width="1" height="44" fill="#089981"/>
<rect x="77" y="533" width="3" height="31" fill="#089981"/>
<rect x="83" y="524" width="1" height="25" fill="#089981"/>
<rect x="82" y="529" width="3" height="6" fill="#089981"/>
<rect x="88" y="518" width="1" height="25" fill="#f23645"/>
<rect x="87" y="518" width="3" height="24" fill="#f23645"/>
<rect x="93" y="535" width="1" height="31" fill="#f23645"/>
<rect x="92" y="540" width="3" height="21" fill="#f23645"/>
<rect x="97" y="544" width="1" height="23" fill="#f23645"/>
<rect x="96" y="557" width="3" height="1" fill="#f23645"/>
<rect x="102" y="521" width="1" height="37" fill="#089981"/>
<rect x="101" y="525" width="3" height="26" fill="#089981"/>
<rect x="107" y="518" width="1" height="15" fill="#f23645"/>
<rect x="106" y="525" width="3" height="7" fill="#f23645"/>
<rect x="112" y="523" width="1" height="23" fill="#089981"/>
<rect x="111" y="535" width="3" height="2" fill="#089981"/>
<rect x="117" y="519" width="1" height="31" fill="#f23645"/>
<rect x="116" y="534" width="3" height="14" fill="#f23645"/>
<rect x="122" y="524" width="1" height="24" fill="#089981"/>
<rect x="121" y="531" width="3" height="17" fill="#089981"/>
<rect x="127" y="525" width="1" height="19" fill="#f23645"/>
<rect x="126" y="535" width="3" height="5" fill="#f23645"/>
<rect x="131" y="516" width="1" height="24" fill="#089981"/>
<rect x="130" y="520" width="3" height="18" fill="#089981"/>
<rect x="136" y="485" width="1" height="28" fill="#089981"/>
<rect x="135" y="487" width="3" height="26" fill="#089981"/>
<rect x="141" y="457" width="1" height="30" fill="#089981"/>
<rect x="140" y="463" width="3" height="23" fill="#089981"/>
<rect x="146" y="442" width="1" height="20" fill="#f23645"/>
<rect x="145" y="449" width="3" height="8" fill="#f23645"/>
<rect x="151" y="454" width="1" height="30" fill="#f23645"/>
<rect x="150" y="457" width="3" height="22" fill="#f23645"/>
<rect x="156" y="470" width="1" height="14" fill="#f23645"/>
<rect x="155" y="475" width="3" height="3" fill="#f23645"/>
<rect x="161" y="453" width="1" height="23" fill="#089981"/>
<rect x="160" y="471" width="3" height="5" fill="#089981"/>
<rect x="166" y="446" width="1" height="28" fill="#089981"/>
<rect x="165" y="459" width="3" height="12" fill="#089981"/>
<rect x="170" y="457" width="1" height="17" fill="#f23645"/>
<rect x="169" y="458" width="3" height="14" fill="#f23645"/>
<rect x="175" y="470" width="1" height="23" fill="#f23645"/>
<rect x="174" y="470" width="3" height="22" fill="#f23645"/>
<rect x="180" y="482" width="1" height="22" fill="#f23645"/>
<rect x="179" y="490" width="3" height="1" fill="#f23645"/>
<rect x="185" y="478" width="1" height="22" fill="#089981"/>
<rect x="184" y="489" width="3" height="3" fill="#089981"/>
<rect x="190" y="484" width="1" height="23" fill="#f23645"/>
<rect x="189" y="488" width="3" height="10" fill="#f23645"/>
<rect x="195" y="484" width="1" height="17" fill="#089981"/>
<rect x="194" y="490" width="3" height="9" fill="#089981"/>
<rect x="200" y="482" width="1" height="30" fill="#f23645"/>
<rect x="199" y="489" width="3" height="7" fill="#f23645"/>
<rect x="204" y="503" width="1" height="12" fill="#f23645"/>
<rect x="203" y="509" width="3" height="5" fill="#f23645"/>
<rect x="209" y="508" width="1" height="26" fill="#f23645"/>
<rect x="208" y="513" width="3" height="15" fill="#f23645"/>
<rect x="214" y="528" width="1" height="33" fill="#f23645"/>
<rect x="213" y="528" width="3" height="20" fill="#f23645"/>
<rect x="219" y="545" width="1" height="27" fill="#f23645"/>
<rect x="218" y="549" width="3" height="4" fill="#f23645"/>
<rect x="224" y="528" width="1" height="21" fill="#089981"/>
<rect x="223" y="540" width="3" height="9" fill="#089981"/>
<rect x="229" y="530" width="1" height="17" fill="#089981"/>
<rect x="228" y="540" width="3" height="1" fill="#089981"/>
<rect x="234" y="525" width="1" height="24" fill="#f23645"/>
<rect x="233" y="535" width="3" height="8" fill="#f23645"/>
<rect x="238" y="540" width="1" height="24" fill="#f23645"/>
<rect x="237" y="544" width="3" height="20" fill="#f23645"/>
<rect x="243" y="552" width="1" height="15" fill="#089981"/>
<rect x="242" y="557" width="3" height="5" fill="#089981"/>
<rect x="248" y="544" width="1" height="21" fill="#f23645"/>
<rect x="247" y="554" width="3" height="3" fill="#f23645"/>
<rect x="253" y="530" width="1" height="28" fill="#089981"/>
<rect x="252" y="538" width="3" height="20" fill="#089981"/>
<rect x="258" y="523" width="1" height="13" fill="#f23645"/>
<rect x="257" y="530" width="3" height="6" fill="#f23645"/>
<rect x="263" y="519" width="1" height="16" fill="#089981"/>
<rect x="262" y="528" width="3" height="7" fill="#089981"/>
<rect x="268" y="514" width="1" height="31" fill="#f23645"/>
<rect x="267" y="524" width="3" height="17" fill="#f23645"/>
<rect x="272" y="539" width="1" height="19" fill="#f23645"/>
<rect x="271" y="539" width="3" height="3" fill="#f23645"/>
<rect x="277" y="531" width="1" height="12" fill="#089981"/>
<rect x="276" y="533" width="3" height="5" fill="#089981"/>
<rect x="282" y="522" width="1" height="13" fill="#f23645"/>
<rect x="281" y="530" width="3" height="1" fill="#f23645"/>
<rect x="287" y="531" width="1" height="10" fill="#f23645"/>
<rect x="286" y="536" width="3" height="5" fill="#f23645"/>
<rect x="292" y="535" width="1" height="26" fill="#f23645"/>
<rect x="291" y="539" width="3" height="8" fill="#f23645"/>
<rect x="297" y="552" width="1" height="16" fill="#f23645"/>
<rect x="296" y="559" width="3" height="8" fill="#f23645"/>
<rect x="302" y="561" width="1" height="22" fill="#f23645"/>
<rect x="301" y="563" width="3" height="17" fill="#f23645"/>
<rect x="306" y="563" width="1" height="13" fill="#089981"/>
<rect x="305" y="567" width="3" height="8" fill="#089981"/>
<rect x="311" y="557" width="1" height="14" fill="#089981"/>
<rect x="310" y="559" width="3" height="10" fill="#089981"/>
<rect x="316" y="552" width="1" height="19" fill="#089981"/>
<rect x="315" y="555" width="3" height="16" fill="#089981"/>
<rect x="321" y="538" width="1" height="37" fill="#089981"/>
<rect x="320" y="543" width="3" height="17" fill="#089981"/>
<rect x="326" y="516" width="1" height="30" fill="#089981"/>
<rect x="325" y="535" width="3" height="7" fill="#089981"/>
<rect x="331" y="516" width="1" height="15" fill="#089981"/>
<rect x="330" y="522" width="3" height="9" fill="#089981"/>
<rect x="336" y="497" width="1" height="30" fill="#089981"/>
<rect x="335" y="502" width="3" height="22" fill="#089981"/>
<rect x="340" y="503" width="1" height="14" fill="#f23645"/>
<rect x="339" y="511" width="3" height="5" fill="#f23645"/>
<rect x="345" y="492" width="1" height="29" fill="#089981"/>
<rect x="344" y="500" width="3" height="21" fill="#089981"/>
<rect x="350" y="493" width="1" height="25" fill="#f23645"/>
<rect x="349" y="498" width="3" height="19" fill="#f23645"/>
<rect x="355" y="485" width="1" height="36" fill="#089981"/>
<rect x="354" y="490" width="3" height="25" fill="#089981"/>
<rect x="360" y="472" width="1" height="23" fill="#089981"/>
<rect x="359" y="475" width="3" height="14" fill="#089981"/>
<rect x="365" y="475" width="1" height="13" fill="#f23645"/>
<rect x="364" y="483" width="3" height="5" fill="#f23645"/>
<rect x="370" y="462" width="1" height="28" fill="#089981"/>
<rect x="369" y="472" width="3" height="18" fill="#089981"/>
<rect x="374" y="456" width="1" height="20" fill="#089981"/>
<rect x="373" y="457" width="3" height="17" fill="#089981"/>
<rect x="379" y="444" width="1" height="28" fill="#089981"/>
<rect x="378" y="450" width="3" height="19" fill="#089981"/>
<rect x="384" y="460" width="1" height="14" fill="#f23645"/>
<rect x="383" y="462" width="3" height="11" fill="#f23645"/>
<rect x="389" y="470" width="1" height="40" fill="#f23645"/>
<rect x="388" y="473" width="3" height="35" fill="#f23645"/>
<rect x="394" y="501" width="1" height="21" fill="#f23645"/>
<rect x="393" y="510" width="3" height="12" fill="#f23645"/>
<rect x="399" y="523" width="1" height="12" fill="#f23645"/>
<rect x="398" y="527" width="3" height="6" fill="#f23645"/>
<rect x="404" y="518" width="1" height="20" fill="#089981"/>
<rect x="403" y="520" width="3" height="18" fill="#089981"/>
<rect x="409" y="503" width="1" height="23" fill="#089981"/>
<rect x="408" y="507" width="3" height="16" fill="#089981"/>
<rect x="413" y="491" width="1" height="25" fill="#089981"/>
<rect x="412" y="496" width="3" height="8" fill="#089981"/>
<rect x="418" y="482" width="1" height="24" fill="#f23645"/>
<rect x="417" y="496" width="3" height="1" fill="#f23645"/>
<rect x="423" y="473" width="1" height="25" fill="#089981"/>
<rect x="422" y="493" width="3" height="5" fill="#089981"/>
<rect x="428" y="483" width="1" height="25" fill="#089981"/>
<rect x="427" y="488" width="3" height="7" fill="#089981"/>
<rect x="433" y="469" width="1" height="21" fill="#089981"/>
<rect x="432" y="472" width="3" height="18" fill="#089981"/>
<rect x="438" y="467" width="1" height="31" fill="#f23645"/>
<rect x="437" y="472" width="3" height="25" fill="#f23645"/>
<rect x="443" y="505" width="1" height="15" fill="#f23645"/>
<rect x="442" y="512" width="3" height="7" fill="#f23645"/>
<rect x="447" y="493" width="1" height="22" fill="#089981"/>
<rect x="446" y="499" width="3" height="8" fill="#089981"/>
<rect x="452" y="490" width="1" height="14" fill="#f23645"/>
<rect x="451" y="500" width="3" height="2" fill="#f23645"/>
<rect x="457" y="483" width="1" height="30" fill="#089981"/>
<rect x="456" y="500" width="3" height="1" fill="#089981"/>
<rect x="462" y="491" width="1" height="19" fill="#f23645"/>
<rect x="461" y="499" width="3" height="10" fill="#f23645"/>
<rect x="467" y="499" width="1" height="18" fill="#089981"/>
<rect x="466" y="503" width="3" height="4" fill="#089981"/>
<rect x="472" y="497" width="1" height="14" fill="#089981"/>
<rect x="471" y="500" width="3" height="5" fill="#089981"/>
<rect x="477" y="477" width="1" height="24" fill="#089981"/>
<rect x="476" y="481" width="3" height="20" fill="#089981"/>
<rect x="481" y="474" width="1" height="17" fill="#f23645"/>
<rect x="480" y="483" width="3" height="4" fill="#f23645"/>
<rect x="486" y="462" width="1" height="22" fill="#089981"/>
<rect x="485" y="465" width="3" height="19" fill="#089981"/>
<rect x="491" y="457" width="1" height="18" fill="#089981"/>
<rect x="490" y="467" width="3" height="2" fill="#089981"/>
<rect x="496" y="460" width="1" height="19" fill="#f23645"/>
<rect x="495" y="472" width="3" height="5" fill="#f23645"/>
<rect x="501" y="457" width="1" height="26" fill="#089981"/>
<rect x="500" y="460" width="3" height="15" fill="#089981"/>
<rect x="506" y="429" width="1" height="34" fill="#089981"/>
<rect x="505" y="429" width="3" height="34" fill="#089981"/>
<rect x="511" y="426" width="1" height="15" fill="#f23645"/>
<rect x="510" y="431" width="3" height="2" fill="#f23645"/>
<rect x="515" y="409" width="1" height="23" fill="#f23645"/>
<rect x="514" y="423" width="3" height="3" fill="#f23645"/>
<rect x="520" y="410" width="1" height="29" fill="#089981"/>
<rect x="519" y="413" width="3" height="10" fill="#089981"/>
<rect x="525" y="399" width="1" height="19" fill="#089981"/>
<rect x="524" y="414" width="3" height="3" fill="#089981"/>
<rect x="530" y="391" width="1" height="21" fill="#089981"/>
<rect x="529" y="392" width="3" height="20" fill="#089981"/>
<rect x="535" y="353" width="1" height="41" fill="#089981"/>
<rect x="534" y="360" width="3" height="34" fill="#089981"/>
<rect x="540" y="349" width="1" height="21" fill="#089981"/>
<rect x="539" y="362" width="3" height="5" fill="#089981"/>
<rect x="545" y="358" width="1" height="26" fill="#f23645"/>
<rect x="544" y="363" width="3" height="16" fill="#f23645"/>
<rect x="549" y="367" width="1" height="25" fill="#f23645"/>
<rect x="548" y="379" width="3" height="12" fill="#f23645"/>
<rect x="554" y="358" width="1" height="33" fill="#089981"/>
<rect x="553" y="367" width="3" height="24" fill="#089981"/>
<rect x="559" y="353" width="1" height="27" fill="#f23645"/>
<rect x="558" y="365" width="3" height="11" fill="#f23645"/>
<rect x="564" y="363" width="1" height="35" fill="#f23645"/>
<rect x="563" y="375" width="3" height="20" fill="#f23645"/>
<rect x="569" y="367" width="1" height="35" fill="#089981"/>
<rect x="568" y="375" width="3" height="16" fill="#089981"/>
<rect x="574" y="365" width="1" height="20" fill="#f23645"/>
<rect x="573" y="373" width="3" height="7" fill="#f23645"/>
<rect x="579" y="378" width="1" height="36" fill="#f23645"/>
<rect x="578" y="378" width="3" height="34" fill="#f23645"/>
<rect x="583" y="391" width="1" height="15" fill="#089981"/>
<rect x="582" y="392" width="3" height="12" fill="#089981"/>
<rect x="588" y="368" width="1" height="22" fill="#089981"/>
<rect x="587" y="369" width="3" height="11" fill="#089981"/>
<rect x="593" y="350" width="1" height="33" fill="#089981"/>
<rect x="592" y="354" width="3" height="18" fill="#089981"/>
<rect x="598" y="312" width="1" height="49" fill="#089981"/>
<rect x="597" y="323" width="3" height="34" fill="#089981"/>
<rect x="603" y="315" width="1" height="20" fill="#f23645"/>
<rect x="602" y="324" width="3" height="3" fill="#f23645"/>
<rect x="608" y="330" width="1" height="21" fill="#f23645"/>
<rect x="607" y="331" width="3" height="14" fill="#f23645"/>
<rect x="613" y="339" width="1" height="33" fill="#f23645"/>
<rect x="612" y="343" width="3" height="18" fill="#f23645"/>
<rect x="617" y="347" width="1" height="24" fill="#089981"/>
<rect x="616" y="352" width="3" height="10" fill="#089981"/>
<rect x="622" y="363" width="1" height="18" fill="#089981"/>
<rect x="621" y="364" width="3" height="3" fill="#089981"/>
<rect x="627" y="365" width="1" height="31" fill="#f23645"/>
<rect x="626" y="376" width="3" height="14" fill="#f23645"/>
<rect x="632" y="401" width="1" height="31" fill="#f23645"/>
<rect x="631" y="408" width="3" height="24" fill="#f23645"/>
<rect x="637" y="425" width="1" height="39" fill="#f23645"/>
<rect x="636" y="430" width="3" height="23" fill="#f23645"/>
<rect x="642" y="446" width="1" height="16" fill="#f23645"/>
<rect x="641" y="452" width="3" height="10" fill="#f23645"/>
<rect x="647" y="443" width="1" height="50" fill="#f23645"/>
<rect x="646" y="462" width="3" height="19" fill="#f23645"/>
<rect x="652" y="467" width="1" height="27" fill="#f23645"/>
<rect x="651" y="469" width="3" height="6" fill="#f23645"/>
<rect x="656" y="448" width="1" height="33" fill="#089981"/>
<rect x="655" y="465" width="3" height="12" fill="#089981"/>
<rect x="661" y="448" width="1" height="32" fill="#f23645"/>
<rect x="660" y="472" width="3" height="3" fill="#f23645"/>
<rect x="666" y="467" width="1" height="48" fill="#f23645"/>
<rect x="665" y="474" width="3" height="23" fill="#f23645"/>
<rect x="671" y="482" width="1" height="27" fill="#089981"/>
<rect x="670" y="489" width="3" height="9" fill="#089981"/>
<rect x="676" y="474" width="1" height="21" fill="#f23645"/>
<rect x="675" y="483" width="3" height="1" fill="#f23645"/>
<rect x="681" y="478" width="1" height="38" fill="#f23645"/>
<rect x="680" y="486" width="3" height="30" fill="#f23645"/>
<rect x="686" y="504" width="1" height="16" fill="#089981"/>
<rect x="685" y="506" width="3" height="14" fill="#089981"/>
<rect x="690" y="504" width="1" height="14" fill="#089981"/>
<rect x="689" y="506" width="3" height="1" fill="#089981"/>
<rect x="695" y="497" width="1" height="14" fill="#089981"/>
<rect x="694" y="500" width="3" height="9" fill="#089981"/>
<rect x="700" y="477" width="1" height="24" fill="#089981"/>
<rect x="699" y="478" width="3" height="23" fill="#089981"/>
<rect x="705" y="470" width="1" height="29" fill="#f23645"/>
<rect x="704" y="478" width="3" height="21" fill="#f23645"/>
<rect x="710" y="492" width="1" height="22" fill="#f23645"/>
<rect x="709" y="498" width="3" height="13" fill="#f23645"/>
<rect x="715" y="505" width="1" height="26" fill="#f23645"/>
<rect x="714" y="512" width="3" height="7" fill="#f23645"/>
<rect x="720" y="489" width="1" height="15" fill="#089981"/>
<rect x="719" y="498" width="3" height="5" fill="#089981"/>
<rect x="724" y="487" width="1" height="31" fill="#f23645"/>
<rect x="723" y="496" width="3" height="21" fill="#f23645"/>
<rect x="729" y="495" width="1" height="32" fill="#089981"/>
<rect x="728" y="501" width="3" height="19" fill="#089981"/>
<rect x="734" y="498" width="1" height="26" fill="#f23645"/>
<rect x="733" y="507" width="3" height="13" fill="#f23645"/>
<rect x="739" y="485" width="1" height="34" fill="#089981"/>
<rect x="738" y="491" width="3" height="27" fill="#089981"/>
<rect x="744" y="479" width="1" height="13" fill="#089981"/>
<rect x="743" y="481" width="3" height="4" fill="#089981"/>
<rect x="749" y="467" width="1" height="33" fill="#f23645"/>
<rect x="748" y="483" width="3" height="16" fill="#f23645"/>
<rect x="754" y="484" width="1" height="12" fill="#089981"/>
<rect x="753" y="490" width="3" height="6" fill="#089981"/>
<rect x="758" y="478" width="1" height="18" fill="#f23645"/>
<rect x="757" y="486" width="3" height="8" fill="#f23645"/>
<rect x="763" y="481" width="1" height="22" fill="#f23645"/>
<rect x="762" y="483" width="3" height="15" fill="#f23645"/>
<rect x="768" y="466" width="1" height="32" fill="#089981"/>
<rect x="767" y="469" width="3" height="29" fill="#089981"/>
<rect x="773" y="442" width="1" height="32" fill="#089981"/>
<rect x="772" y="444" width="3" height="24" fill="#089981"/>
<rect x="778" y="446" width="1" height="21" fill="#f23645"/>
<rect x="777" y="448" width="3" height="11" fill="#f23645"/>
<rect x="783" y="427" width="1" height="39" fill="#089981"/>
<rect x="782" y="431" width="3" height="29" fill="#089981"/>
<rect x="788" y="471" width="1" height="18" fill="#f23645"/>
<rect x="787" y="473" width="3" height="8" fill="#f23645"/>
<rect x="792" y="472" width="1" height="19" fill="#f23645"/>
<rect x="791" y="482" width="3" height="5" fill="#f23645"/>
<rect x="797" y="463" width="1" height="28" fill="#089981"/>
<rect x="796" y="469" width="3" height="16" fill="#089981"/>
<rect x="802" y="447" width="1" height="20" fill="#089981"/>
<rect x="801" y="464" width="3" height="1" fill="#089981"/>
<rect x="807" y="469" width="1" height="14" fill="#f23645"/>
<rect x="806" y="479" width="3" height="4" fill="#f23645"/>
<rect x="812" y="468" width="1" height="26" fill="#f23645"/>
<rect x="811" y="476" width="3" height="3" fill="#f23645"/>
<rect x="817" y="459" width="1" height="24" fill="#089981"/>
<rect x="816" y="468" width="3" height="15" fill="#089981"/>
<rect x="822" y="456" width="1" height="22" fill="#f23645"/>
<rect x="821" y="465" width="3" height="12" fill="#f23645"/>
<rect x="826" y="461" width="1" height="24" fill="#089981"/>
<rect x="825" y="473" width="3" height="4" fill="#089981"/>
<rect x="831" y="479" width="1" height="19" fill="#f23645"/>
<rect x="830" y="479" width="3" height="16" fill="#f23645"/>
<rect x="836" y="475" width="1" height="21" fill="#089981"/>
<rect x="835" y="482" width="3" height="14" fill="#089981"/>
<rect x="841" y="467" width="1" height="21" fill="#089981"/>
<rect x="840" y="469" width="3" height="12" fill="#089981"/>
<rect x="846" y="468" width="1" height="23" fill="#f23645"/>
<rect x="845" y="471" width="3" height="18" fill="#f23645"/>
<rect x="851" y="482" width="1" height="17" fill="#089981"/>
<rect x="850" y="489" width="3" height="10" fill="#089981"/>
<rect x="856" y="488" width="1" height="18" fill="#f23645"/>
<rect x="855" y="491" width="3" height="11" fill="#f23645"/>
<rect x="860" y="490" width="1" height="21" fill="#089981"/>
<rect x="859" y="495" width="3" height="6" fill="#089981"/>
<rect x="865" y="485" width="1" height="17" fill="#089981"/>
<rect x="864" y="491" width="3" height="6" fill="#089981"/>
<rect x="870" y="478" width="1" height="13" fill="#089981"/>
<rect x="869" y="483" width="3" height="8" fill="#089981"/>
<rect x="875" y="452" width="1" height="18" fill="#089981"/>
<rect x="874" y="462" width="3" height="5" fill="#089981"/>
<rect x="880" y="424" width="1" height="37" fill="#089981"/>
<rect x="879" y="427" width="3" height="34" fill="#089981"/>
<rect x="885" y="422" width="1" height="27" fill="#f23645"/>
<rect x="884" y="424" width="3" height="6" fill="#f23645"/>
<rect x="890" y="416" width="1" height="23" fill="#f23645"/>
<rect x="889" y="427" width="3" height="8" fill="#f23645"/>
<rect x="895" y="426" width="1" height="18" fill="#f23645"/>
<rect x="894" y="433" width="3" height="10" fill="#f23645"/>
<rect x="899" y="453" width="1" height="24" fill="#f23645"/>
<rect x="898" y="454" width="3" height="16" fill="#f23645"/>
<rect x="904" y="468" width="1" height="36" fill="#f23645"/>
<rect x="903" y="469" width="3" height="14" fill="#f23645"/>
<rect x="909" y="475" width="1" height="16" fill="#089981"/>
<rect x="908" y="477" width="3" height="4" fill="#089981"/>
<rect x="914" y="458" width="1" height="27" fill="#f23645"/>
<rect x="913" y="475" width="3" height="9" fill="#f23645"/>
<rect x="919" y="477" width="1" height="23" fill="#089981"/>
<rect x="918" y="490" width="3" height="6" fill="#089981"/>
<rect x="924" y="476" width="1" height="27" fill="#089981"/>
<rect x="923" y="480" width="3" height="22" fill="#089981"/>
<rect x="929" y="463" width="1" height="23" fill="#089981"/>
<rect x="928" y="478" width="3" height="7" fill="#089981"/>
<rect x="933" y="468" width="1" height="20" fill="#f23645"/>
<rect x="932" y="472" width="3" height="5" fill="#f23645"/>
<rect x="938" y="468" width="1" height="15" fill="#089981"/>
<rect x="937" y="468" width="3" height="10" fill="#089981"/>
<rect x="943" y="456" width="1" height="19" fill="#089981"/>
<rect x="942" y="460" width="3" height="15" fill="#089981"/>
<rect x="948" y="450" width="1" height="20" fill="#f23645"/>
<rect x="947" y="461" width="3" height="6" fill="#f23645"/>
<rect x="953" y="458" width="1" height="28" fill="#f23645"/>
<rect x="952" y="464" width="3" height="17" fill="#f23645"/>
<rect x="958" y="478" width="1" height="17" fill="#f23645"/>
<rect x="957" y="480" width="3" height="3" fill="#f23645"/>
<rect x="963" y="465" width="1" height="20" fill="#089981"/>
<rect x="962" y="474" width="3" height="6" fill="#089981"/>
<rect x="967" y="472" width="1" height="29" fill="#089981"/>
<rect x="966" y="485" width="3" height="12" fill="#089981"/>
<rect x="972" y="471" width="1" height="23" fill="#089981"/>
<rect x="971" y="483" width="3" height="5" fill="#089981"/>
<rect x="977" y="482" width="1" height="12" fill="#089981"/>
<rect x="976" y="485" width="3" height="4" fill="#089981"/>
<rect x="982" y="475" width="1" height="32" fill="#f23645"/>
<rect x="981" y="481" width="3" height="18" fill="#f23645"/>
<rect x="987" y="477" width="1" height="25" fill="#089981"/>
<rect x="986" y="483" width="3" height="18" fill="#089981"/>
<rect x="992" y="489" width="1" height="37" fill="#f23645"/>
<rect x="991" y="507" width="3" height="19" fill="#f23645"/>
<rect x="997" y="521" width="1" height="32" fill="#f23645"/>
<rect x="996" y="523" width="3" height="29" fill="#f23645"/>
<rect x="1001" y="537" width="1" height="23" fill="#f23645"/>
<rect x="1000" y="552" width="3" height="3" fill="#f23645"/>
<rect x="1006" y="536" width="1" height="27" fill="#f23645"/>
<rect x="1005" y="543" width="3" height="10" fill="#f23645"/>
<rect x="1011" y="531" width="1" height="19" fill="#089981"/>
<rect x="1010" y="538" width="3" height="12" fill="#089981"/>
<rect x="1016" y="538" width="1" height="16" fill="#f23645"/>
<rect x="1015" y="549" width="3" height="2" fill="#f23645"/>
<rect x="1021" y="543" width="1" height="18" fill="#f23645"/>
<rect x="1020" y="547" width="3" height="10" fill="#f23645"/>
<rect x="1026" y="543" width="1" height="30" fill="#089981"/>
<rect x="1025" y="546" width="3" height="8" fill="#089981"/>
<rect x="1031" y="533" width="1" height="15" fill="#089981"/>
<rect x="1030" y="535" width="3" height="13" fill="#089981"/>
<rect x="1035" y="542" width="1" height="20" fill="#f23645"/>
<rect x="1034" y="557" width="3" height="3" fill="#f23645"/>
<rect x="1040" y="542" width="1" height="23" fill="#089981"/>
<rect x="1039" y="546" width="3" height="7" fill="#089981"/>
<rect x="1045" y="540" width="1" height="14" fill="#089981"/>
<rect x="1044" y="548" width="3" height="2" fill="#089981"/>
<rect x="1050" y="528" width="1" height="21" fill="#089981"/>
<rect x="1049" y="535" width="3" height="14" fill="#089981"/>
<rect x="1055" y="511" width="1" height="29" fill="#089981"/>
<rect x="1054" y="512" width="3" height="22" fill="#089981"/>
<rect x="1060" y="495" width="1" height="27" fill="#089981"/>
<rect x="1059" y="499" width="3" height="15" fill="#089981"/>
<rect x="1065" y="459" width="1" height="39" fill="#089981"/>
<rect x="1064" y="480" width="3" height="16" fill="#089981"/>
<rect x="1069" y="462" width="1" height="20" fill="#f23645"/>
<rect x="1068" y="477" width="3" height="5" fill="#f23645"/>
<rect x="1074" y="474" width="1" height="13" fill="#f23645"/>
<rect x="1073" y="478" width="3" height="5" fill="#f23645"/>
<rect x="1079" y="472" width="1" height="25" fill="#089981"/>
<rect x="1078" y="475" width="3" height="12" fill="#089981"/>
<rect x="1084" y="455" width="1" height="23" fill="#089981"/>
<rect x="1083" y="463" width="3" height="12" fill="#089981"/>
<rect x="1089" y="473" width="1" height="15" fill="#089981"/>
<rect x="1088" y="477" width="3" height="4" fill="#089981"/>
<rect x="1094" y="459" width="1" height="26" fill="#089981"/>
<rect x="1093" y="478" width="3" height="1" fill="#089981"/>
<rect x="1099" y="470" width="1" height="29" fill="#f23645"/>
<rect x="1098" y="475" width="3" height="19" fill="#f23645"/>
<rect x="1103" y="480" width="1" height="25" fill="#089981"/>
<rect x="1102" y="483" width="3" height="12" fill="#089981"/>
<rect x="1108" y="472" width="1" height="21" fill="#f23645"/>
<rect x="1107" y="482" width="3" height="8" fill="#f23645"/>
<rect x="1113" y="488" width="1" height="15" fill="#089981"/>
<rect x="1112" y="490" width="3" height="4" fill="#089981"/>
<rect x="1118" y="483" width="1" height="15" fill="#f23645"/>
<rect x="1117" y="489" width="3" height="5" fill="#f23645"/>
<rect x="1123" y="471" width="1" height="31" fill="#089981"/>
<rect x="1122" y="488" width="3" height="3" fill="#089981"/>
<rect x="1128" y="488" width="1" height="23" fill="#f23645"/>
<rect x="1127" y="488" width="3" height="17" fill="#f23645"/>
<rect x="1133" y="487" width="1" height="32" fill="#f23645"/>
<rect x="1132" y="502" width="3" height="15" fill="#f23645"/>
<rect x="1138" y="534" width="1" height="18" fill="#089981"/>
<rect x="1137" y="541" width="3" height="7" fill="#089981"/>
<rect x="1142" y="502" width="1" height="39" fill="#089981"/>
<rect x="1141" y="506" width="3" height="35" fill="#089981"/>
<rect x="1147" y="466" width="1" height="49" fill="#089981"/>
<rect x="1146" y="496" width="3" height="17" fill="#089981"/>
<rect x="1152" y="472" width="1" height="23" fill="#089981"/>
<rect x="1151" y="473" width="3" height="16" fill="#089981"/>
<rect x="1157" y="443" width="1" height="25" fill="#f23645"/>
<rect x="1156" y="461" width="3" height="3" fill="#f23645"/>
<rect x="1162" y="448" width="1" height="23" fill="#089981"/>
<rect x="1161" y="459" width="3" height="3" fill="#089981"/>
<rect x="1167" y="433" width="1" height="26" fill="#089981"/>
<rect x="1166" y="442" width="3" height="14" fill="#089981"/>
<rect x="1172" y="405" width="1" height="41" fill="#089981"/>
<rect x="1171" y="406" width="3" height="39" fill="#089981"/>
<rect x="1176" y="391" width="1" height="55" fill="#f23645"/>
<rect x="1175" y="404" width="3" height="36" fill="#f23645"/>
<rect x="1181" y="435" width="1" height="25" fill="#f23645"/>
<rect x="1180" y="442" width="3" height="15" fill="#f23645"/>
<rect x="1186" y="441" width="1" height="16" fill="#f23645"/>
<rect x="1185" y="450" width="3" height="5" fill="#f23645"/>
<rect x="1191" y="391" width="1" height="66" fill="#089981"/>
<rect x="1190" y="392" width="3" height="65" fill="#089981"/>
<rect x="1196" y="381" width="1" height="35" fill="#089981"/>
<rect x="1195" y="396" width="3" height="3" fill="#089981"/>
<rect x="1201" y="342" width="1" height="57" fill="#089981"/>
<rect x="1200" y="358" width="3" height="37" fill="#089981"/>
<rect x="1206" y="342" width="1" height="33" fill="#089981"/>
<rect x="1205" y="344" width="3" height="31" fill="#089981"/>
<rect x="1210" y="323" width="1" height="54" fill="#f23645"/>
<rect x="1209" y="346" width="3" height="22" fill="#f23645"/>
<rect x="1215" y="357" width="1" height="35" fill="#f23645"/>
<rect x="1214" y="366" width="3" height="9" fill="#f23645"/>
<rect x="1220" y="363" width="1" height="32" fill="#f23645"/>
<rect x="1219" y="379" width="3" height="1" fill="#f23645"/>
<rect x="1225" y="341" width="1" height="38" fill="#089981"/>
<rect x="1224" y="342" width="3" height="37" fill="#089981"/>
<rect x="1230" y="324" width="1" height="38" fill="#089981"/>
<rect x="1229" y="354" width="3" height="7" fill="#089981"/>
<rect x="1235" y="351" width="1" height="28" fill="#f23645"/>
<rect x="1234" y="358" width="3" height="10" fill="#f23645"/>
<rect x="1240" y="347" width="1" height="35" fill="#089981"/>
<rect x="1239" y="354" width="3" height="27" fill="#089981"/>
<rect x="1244" y="347" width="1" height="25" fill="#f23645"/>
<rect x="1243" y="352" width="3" height="14" fill="#f23645"/>
<rect x="1249" y="333" width="1" height="48" fill="#f23645"/>
<rect x="1248" y="364" width="3" height="10" fill="#f23645"/>
<rect x="1254" y="354" width="1" height="28" fill="#089981"/>
<rect x="1253" y="358" width="3" height="24" fill="#089981"/>
<rect x="1259" y="329" width="1" height="32" fill="#089981"/>
<rect x="1258" y="330" width="3" height="29" fill="#089981"/>
<rect x="1264" y="288" width="1" height="43" fill="#089981"/>
<rect x="1263" y="298" width="3" height="29" fill="#089981"/>
<rect x="1269" y="257" width="1" height="52" fill="#089981"/>
<rect x="1268" y="260" width="3" height="41" fill="#089981"/>
<rect x="1274" y="241" width="1" height="46" fill="#f23645"/>
<rect x="1273" y="264" width="3" height="18" fill="#f23645"/>
<rect x="1278" y="264" width="1" height="35" fill="#089981"/>
<rect x="1277" y="284" width="3" height="9" fill="#089981"/>
<rect x="1283" y="241" width="1" height="45" fill="#089981"/>
<rect x="1282" y="248" width="3" height="37" fill="#089981"/>
<rect x="1288" y="227" width="1" height="36" fill="#089981"/>
<rect x="1287" y="229" width="3" height="22" fill="#089981"/>
<rect x="1293" y="170" width="1" height="43" fill="#089981"/>
<rect x="1292" y="173" width="3" height="35" fill="#089981"/>
<rect x="1298" y="159" width="1" height="28" fill="#089981"/>
<rect x="1297" y="166" width="3" height="17" fill="#089981"/>
<rect x="1303" y="167" width="1" height="34" fill="#f23645"/>
<rect x="1302" y="170" width="3" height="24" fill="#f23645"/>
<rect x="1308" y="155" width="1" height="47" fill="#089981"/>
<rect x="1307" y="157" width="3" height="36" fill="#089981"/>
<rect x="1312" y="126" width="1" height="47" fill="#089981"/>
<rect x="1311" y="146" width="3" height="19" fill="#089981"/>
<rect x="1317" y="97" width="1" height="44" fill="#089981"/>
<rect x="1316" y="98" width="3" height="42" fill="#089981"/>
<rect x="1322" y="65" width="1" height="47" fill="#089981"/>
<rect x="1321" y="67" width="3" height="40" fill="#089981"/>
<rect x="1327" y="67" width="1" height="57" fill="#f23645"/>
<rect x="1326" y="75" width="3" height="48" fill="#f23645"/>
<rect x="1332" y="100" width="1" height="81" fill="#f23645"/>
<rect x="1331" y="115" width="3" height="20" fill="#f23645"/>
<rect x="1337" y="125" width="1" height="62" fill="#f23645"/>
<rect x="1336" y="140" width="3" height="3" fill="#f23645"/>
<rect x="1342" y="101" width="1" height="56" fill="#089981"/>
<rect x="1341" y="102" width="3" height="46" fill="#089981"/>
<rect x="1346" y="128" width="1" height="45" fill="#f23645"/>
<rect x="1345" y="141" width="3" height="23" fill="#f23645"/>
<rect x="1351" y="128" width="1" height="66" fill="#089981"/>
<rect x="1350" y="155" width="3" height="6" fill="#089981"/>
<rect x="1356" y="140" width="1" height="52" fill="#f23645"/>
<rect x="1355" y="154" width="3" height="38" fill="#f23645"/>
<rect x="1361" y="187" width="1" height="65" fill="#f23645"/>
<rect x="1360" y="192" width="3" height="13" fill="#f23645"/>
<rect x="1366" y="207" width="1" height="41" fill="#f23645"/>
<rect x="1365" y="213" width="3" height="35" fill="#f23645"/>
<rect x="1371" y="216" width="1" height="22" fill="#f23645"/>
<rect x="1370" y="225" width="3" height="4" fill="#f23645"/>
<rect x="1376" y="207" width="1" height="34" fill="#089981"/>
<rect x="1375" y="217" width="3" height="15" fill="#089981"/>
<rect x="1381" y="189" width="1" height="39" fill="#089981"/>
<rect x="1380" y="196" width="3" height="19" fill="#089981"/>
<rect x="1385" y="165" width="1" height="46" fill="#089981"/>
<rect x="1384" y="168" width="3" height="32" fill="#089981"/>
<rect x="1390" y="118" width="1" height="58" fill="#089981"/>
<rect x="1389" y="124" width="3" height="48" fill="#089981"/>
<rect x="1395" y="110" width="1" height="42" fill="#f23645"/>
<rect x="1394" y="119" width="3" height="27" fill="#f23645"/>
<rect x="1400" y="102" width="1" height="46" fill="#089981"/>
<rect x="1399" y="106" width="3" height="38" fill="#089981"/>
<rect x="1405" y="78" width="1" height="49" fill="#f23645"/>
<rect x="1404" y="103" width="3" height="18" fill="#f23645"/>
<rect x="1410" y="79" width="1" height="55" fill="#089981"/>
<rect x="1409" y="87" width="3" height="27" fill="#089981"/>
<rect x="1415" y="72" width="1" height="32" fill="#f23645"/>
<rect x="1414" y="88" width="3" height="1" fill="#f23645"/>
<rect x="1419" y="83" width="1" height="26" fill="#f23645"/>
<rect x="1418" y="87" width="3" height="5" fill="#f23645"/>
<rect x="1424" y="79" width="1" height="76" fill="#f23645"/>
<rect x="1423" y="90" width="3" height="57" fill="#f23645"/>
<rect x="1429" y="136" width="1" height="54" fill="#f23645"/>
<rect x="1428" y="146" width="3" height="32" fill="#f23645"/>
<rect x="1434" y="161" width="1" height="16" fill="#089981"/>
<rect x="1433" y="165" width="3" height="12" fill="#089981"/>
<rect x="0" y="666" width="1549" height="1" fill="#e0e3eb"/>
<rect x="4" y="753" width="3" height="3" fill="#ff5252"/>
<rect x="8" y="753" width="3" height="4" fill="#ff5252"/>
<rect x="13" y="753" width="3" height="4" fill="#ff5252"/>
<rect x="18" y="753" width="3" height="5" fill="#ff5252"/>
<rect x="23" y="753" width="3" height="6" fill="#ff5252"/>
<rect x="28" y="753" width="3" height="4" fill="#ffcdd2"/>
<rect x="33" y="752" width="3" height="2" fill="#26a69a"/>
<rect x="38" y="749" width="3" height="5" fill="#26a69a"/>
<rect x="43" y="747" width="3" height="7" fill="#26a69a"/>
<rect x="47" y="746" width="3" height="8" fill="#26a69a"/>
<rect x="52" y="746" width="3" height="8" fill="#b2dfdb"/>
<rect x="57" y="747" width="3" height="7" fill="#b2dfdb"/>
<rect x="62" y="747" width="3" height="7" fill="#b2dfdb"/>
<rect x="67" y="750" width="3" height="4" fill="#b2dfdb"/>
<rect x="72" y="751" width="3" height="3" fill="#b2dfdb"/>
<rect x="77" y="751" width="3" height="3" fill="#26a69a"/>
<rect x="81" y="750" width="3" height="4" fill="#26a69a"/>
<rect x="86" y="751" width="3" height="3" fill="#b2dfdb"/>
<rect x="91" y="752" width="3" height="2" fill="#b2dfdb"/>
<rect x="96" y="753" width="3" height="1" fill="#b2dfdb"/>
<rect x="101" y="752" width="3" height="2" fill="#26a69a"/>
<rect x="106" y="751" width="3" height="3" fill="#26a69a"/>
<rect x="111" y="751" width="3" height="3" fill="#b2dfdb"/>
<rect x="115" y="752" width="3" height="2" fill="#b2dfdb"/>
<rect x="120" y="752" width="3" height="2" fill="#26a69a"/>
<rect x="125" y="752" width="3" height="2" fill="#b2dfdb"/>
<rect x="130" y="751" width="3" height="3" fill="#26a69a"/>
<rect x="135" y="749" width="3" height="5" fill="#26a69a"/>
<rect x="140" y="746" width="3" height="8" fill="#26a69a"/>
<rect x="145" y="744" width="3" height="10" fill="#26a69a"/>
<rect x="149" y="746" width="3" height="8" fill="#b2dfdb"/>
<rect x="154" y="746" width="3" height="8" fill="#b2dfdb"/>
<rect x="159" y="747" width="3" height="7" fill="#b2dfdb"/>
<rect x="164" y="747" width="3" height="7" fill="#b2dfdb"/>
<rect x="169" y="748" width="3" height="6" fill="#b2dfdb"/>
<rect x="174" y="751" width="3" height="3" fill="#b2dfdb"/>
<rect x="179" y="752" width="3" height="2" fill="#b2dfdb"/>
<rect x="183" y="753" width="3" height="2" fill="#ff5252"/>
<rect x="188" y="753" width="3" height="3" fill="#ff5252"/>
<rect x="193" y="753" width="3" height="3" fill="#ff5252"/>
<rect x="198" y="753" width="3" height="4" fill="#ff5252"/>
<rect x="203" y="753" width="3" height="6" fill="#ff5252"/>
<rect x="208" y="753" width="3" height="7" fill="#ff5252"/>
<rect x="213" y="753" width="3" height="9" fill="#ff5252"/>
<rect x="217" y="753" width="3" height="11" fill="#ff5252"/>
<rect x="222" y="753" width="3" height="10" fill="#ffcdd2"/>
<rect x="227" y="753" width="3" height="10" fill="#ffcdd2"/>
<rect x="232" y="753" width="3" height="9" fill="#ffcdd2"/>
<rect x="237" y="753" width="3" height="9" fill="#ff5252"/>
<rect x="242" y="753" width="3" height="9" fill="#ffcdd2"/>
<rect x="247" y="753" width="3" height="8" fill="#ffcdd2"/>
<rect x="251" y="753" width="3" height="6" fill="#ffcdd2"/>
<rect x="256" y="753" width="3" height="4" fill="#ffcdd2"/>
<rect x="261" y="753" width="3" height="3" fill="#ffcdd2"/>
<rect x="266" y="753" width="3" height="2" fill="#ffcdd2"/>
<rect x="271" y="753" width="3" height="2" fill="#ffcdd2"/>
<rect x="276" y="753" width="3" height="1" fill="#26a69a"/>
<rect x="281" y="752" width="3" height="2" fill="#26a69a"/>
<rect x="286" y="752" width="3" height="2" fill="#b2dfdb"/>
<rect x="290" y="753" width="3" height="1" fill="#b2dfdb"/>
<rect x="295" y="753" width="3" height="2" fill="#ff5252"/>
<rect x="300" y="753" width="3" height="4" fill="#ff5252"/>
<rect x="305" y="753" width="3" height="4" fill="#ff5252"/>
<rect x="310" y="753" width="3" height="3" fill="#ffcdd2"/>
<rect x="315" y="753" width="3" height="3" fill="#ffcdd2"/>
<rect x="320" y="753" width="3" height="1" fill="#26a69a"/>
<rect x="324" y="752" width="3" height="2" fill="#26a69a"/>
<rect x="329" y="750" width="3" height="4" fill="#26a69a"/>
<rect x="334" y="748" width="3" height="6" fill="#26a69a"/>
<rect x="339" y="748" width="3" height="6" fill="#26a69a"/>
<rect x="344" y="747" width="3" height="7" fill="#26a69a"/>
<rect x="349" y="748" width="3" height="6" fill="#b2dfdb"/>
<rect x="354" y="747" width="3" height="7" fill="#26a69a"/>
<rect x="358" y="746" width="3" height="8" fill="#26a69a"/>
<rect x="363" y="746" width="3" height="8" fill="#b2dfdb"/>
<rect x="368" y="746" width="3" height="8" fill="#26a69a"/>
<rect x="373" y="745" width="3" height="9" fill="#26a69a"/>
<rect x="378" y="745" width="3" height="9" fill="#26a69a"/>
<rect x="383" y="747" width="3" height="7" fill="#b2dfdb"/>
<rect x="388" y="750" width="3" height="4" fill="#b2dfdb"/>
<rect x="392" y="753" width="3" height="2" fill="#ff5252"/>
<rect x="397" y="753" width="3" height="5" fill="#ff5252"/>
<rect x="402" y="753" width="3" height="6" fill="#ff5252"/>
<rect x="407" y="753" width="3" height="5" fill="#ffcdd2"/>
<rect x="412" y="753" width="3" height="4" fill="#ffcdd2"/>
<rect x="417" y="753" width="3" height="4" fill="#ffcdd2"/>
<rect x="422" y="753" width="3" height="3" fill="#ffcdd2"/>
<rect x="426" y="753" width="3" height="2" fill="#ffcdd2"/>
<rect x="431" y="753" width="3" height="1" fill="#26a69a"/>
<rect x="436" y="753" width="3" height="2" fill="#ff5252"/>
<rect x="441" y="753" width="3" height="3" fill="#ff5252"/>
<rect x="446" y="753" width="3" height="3" fill="#ffcdd2"/>
<rect x="451" y="753" width="3" height="3" fill="#ff5252"/>
<rect x="456" y="753" width="3" height="3" fill="#ffcdd2"/>
<rect x="460" y="753" width="3" height="4" fill="#ff5252"/>
<rect x="465" y="753" width="3" height="4" fill="#ffcdd2"/>
<rect x="470" y="753" width="3" height="3" fill="#ffcdd2"/>
<rect x="475" y="753" width="3" height="1" fill="#ffcdd2"/>
<rect x="480" y="753" width="3" height="1" fill="#26a69a"/>
<rect x="485" y="752" width="3" height="2" fill="#26a69a"/>
<rect x="490" y="751" width="3" height="3" fill="#26a69a"/>
<rect x="494" y="751" width="3" height="3" fill="#b2dfdb"/>
<rect x="499" y="750" width="3" height="4" fill="#26a69a"/>
<rect x="504" y="748" width="3" height="6" fill="#26a69a"/>
<rect x="509" y="748" width="3" height="6" fill="#26a69a"/>
<rect x="514" y="747" width="3" height="7" fill="#26a69a"/>
<rect x="519" y="746" width="3" height="8" fill="#26a69a"/>
<rect x="524" y="747" width="3" height="7" fill="#b2dfdb"/>
<rect x="529" y="746" width="3" height="8" fill="#26a69a"/>
<rect x="533" y="744" width="3" height="10" fill="#26a69a"/>
<rect x="538" y="743" width="3" height="11" fill="#26a69a"/>
<rect x="543" y="745" width="3" height="9" fill="#b2dfdb"/>
<rect x="548" y="747" width="3" height="7" fill="#b2dfdb"/>
<rect x="553" y="748" width="3" height="6" fill="#b2dfdb"/>
<rect x="558" y="749" width="3" height="5" fill="#b2dfdb"/>
<rect x="563" y="752" width="3" height="2" fill="#b2dfdb"/>
<rect x="567" y="752" width="3" height="2" fill="#b2dfdb"/>
<rect x="572" y="753" width="3" height="1" fill="#ff5252"/>
<rect x="577" y="753" width="3" height="4" fill="#ff5252"/>
<rect x="582" y="753" width="3" height="5" fill="#ff5252"/>
<rect x="587" y="753" width="3" height="4" fill="#ffcdd2"/>
<rect x="592" y="753" width="3" height="3" fill="#ffcdd2"/>
<rect x="597" y="752" width="3" height="2" fill="#26a69a"/>
<rect x="601" y="751" width="3" height="3" fill="#26a69a"/>
<rect x="606" y="752" width="3" height="2" fill="#b2dfdb"/>
<rect x="611" y="753" width="3" height="1" fill="#b2dfdb"/>
<rect x="616" y="753" width="3" height="2" fill="#ff5252"/>
<rect x="621" y="753" width="3" height="4" fill="#ff5252"/>
<rect x="626" y="753" width="3" height="6" fill="#ff5252"/>
<rect x="631" y="753" width="3" height="10" fill="#ff5252"/>
<rect x="635" y="753" width="3" height="14" fill="#ff5252"/>
<rect x="640" y="753" width="3" height="16" fill="#ff5252"/>
<rect x="645" y="753" width="3" height="18" fill="#ff5252"/>
<rect x="650" y="753" width="3" height="18" fill="#ff5252"/>
<rect x="655" y="753" width="3" height="17" fill="#ffcdd2"/>
<rect x="660" y="753" width="3" height="16" fill="#ffcdd2"/>
<rect x="665" y="753" width="3" height="16" fill="#ffcdd2"/>
<rect x="669" y="753" width="3" height="15" fill="#ffcdd2"/>
<rect x="674" y="753" width="3" height="13" fill="#ffcdd2"/>
<rect x="679" y="753" width="3" height="14" fill="#ff5252"/>
<rect x="684" y="753" width="3" height="11" fill="#ffcdd2"/>
<rect x="689" y="753" width="3" height="10" fill="#ffcdd2"/>
<rect x="694" y="753" width="3" height="8" fill="#ffcdd2"/>
<rect x="699" y="753" width="3" height="5" fill="#ffcdd2"/>
<rect x="703" y="753" width="3" height="4" fill="#ffcdd2"/>
<rect x="708" y="753" width="3" height="4" fill="#ffcdd2"/>
<rect x="713" y="753" width="3" height="4" fill="#ffcdd2"/>
<rect x="718" y="753" width="3" height="1" fill="#ffcdd2"/>
<rect x="723" y="753" width="3" height="1" fill="#ffcdd2"/>
<rect x="728" y="753" width="3" height="1" fill="#26a69a"/>
<rect x="733" y="753" width="3" height="1" fill="#b2dfdb"/>
<rect x="737" y="751" width="3" height="3" fill="#26a69a"/>
<rect x="742" y="749" width="3" height="5" fill="#26a69a"/>
<rect x="747" y="749" width="3" height="5" fill="#26a69a"/>
<rect x="752" y="749" width="3" height="5" fill="#26a69a"/>
<rect x="757" y="749" width="3" height="5" fill="#26a69a"/>
<rect x="762" y="749" width="3" height="5" fill="#b2dfdb"/>
<rect x="767" y="747" width="3" height="7" fill="#26a69a"/>
<rect x="772" y="745" width="3" height="9" fill="#26a69a"/>
<rect x="776" y="745" width="3" height="9" fill="#26a69a"/>
<rect x="781" y="743" width="3" height="11" fill="#26a69a"/>
<rect x="786" y="746" width="3" height="8" fill="#b2dfdb"/>
<rect x="791" y="748" width="3" height="6" fill="#b2dfdb"/>
<rect x="796" y="749" width="3" height="5" fill="#b2dfdb"/>
<rect x="801" y="749" width="3" height="5" fill="#b2dfdb"/>
<rect x="806" y="751" width="3" height="3" fill="#b2dfdb"/>
<rect x="810" y="751" width="3" height="3" fill="#b2dfdb"/>
<rect x="815" y="751" width="3" height="3" fill="#26a69a"/>
<rect x="820" y="752" width="3" height="2" fill="#b2dfdb"/>
<rect x="825" y="752" width="3" height="2" fill="#b2dfdb"/>
<rect x="830" y="753" width="3" height="1" fill="#ff5252"/>
<rect x="835" y="753" width="3" height="1" fill="#ff5252"/>
<rect x="840" y="753" width="3" height="1" fill="#ff5252"/>
<rect x="844" y="753" width="3" height="1" fill="#ff5252"/>
<rect x="849" y="753" width="3" height="1" fill="#ff5252"/>
<rect x="854" y="753" width="3" height="2" fill="#ff5252"/>
<rect x="859" y="753" width="3" height="2" fill="#ff5252"/>
<rect x="864" y="753" width="3" height="2" fill="#ffcdd2"/>
<rect x="869" y="753" width="3" height="1" fill="#ffcdd2"/>
<rect x="874" y="752" width="3" height="2" fill="#26a69a"/>
<rect x="878" y="749" width="3" height="5" fill="#26a69a"/>
<rect x="883" y="747" width="3" height="7" fill="#26a69a"/>
<rect x="888" y="747" width="3" height="7" fill="#26a69a"/>
<rect x="893" y="748" width="3" height="6" fill="#b2dfdb"/>
<rect x="898" y="750" width="3" height="4" fill="#b2dfdb"/>
<rect x="903" y="752" width="3" height="2" fill="#b2dfdb"/>
<rect x="908" y="753" width="3" height="2" fill="#ff5252"/>
<rect x="912" y="753" width="3" height="3" fill="#ff5252"/>
<rect x="917" y="753" width="3" height="4" fill="#ff5252"/>
<rect x="922" y="753" width="3" height="4" fill="#ffcdd2"/>
<rect x="927" y="753" width="3" height="4" fill="#ffcdd2"/>
<rect x="932" y="753" width="3" height="2" fill="#ffcdd2"/>
<rect x="937" y="753" width="3" height="2" fill="#ffcdd2"/>
<rect x="942" y="753" width="3" height="2" fill="#ffcdd2"/>
<rect x="946" y="752" width="3" height="2" fill="#26a69a"/>
<rect x="951" y="753" width="3" height="2" fill="#ff5252"/>
<rect x="956" y="753" width="3" height="2" fill="#ff5252"/>
<rect x="961" y="753" width="3" height="1" fill="#ffcdd2"/>
<rect x="966" y="753" width="3" height="3" fill="#ff5252"/>
<rect x="971" y="753" width="3" height="2" fill="#ff5252"/>
<rect x="976" y="753" width="3" height="2" fill="#ff5252"/>
<rect x="980" y="753" width="3" height="4" fill="#ff5252"/>
<rect x="985" y="753" width="3" height="2" fill="#ffcdd2"/>
<rect x="990" y="753" width="3" height="5" fill="#ff5252"/>
<rect x="995" y="753" width="3" height="8" fill="#ff5252"/>
<rect x="1000" y="753" width="3" height="9" fill="#ff5252"/>
<rect x="1005" y="753" width="3" height="10" fill="#ff5252"/>
<rect x="1010" y="753" width="3" height="9" fill="#ffcdd2"/>
<rect x="1015" y="753" width="3" height="8" fill="#ffcdd2"/>
<rect x="1019" y="753" width="3" height="8" fill="#ffcdd2"/>
<rect x="1024" y="753" width="3" height="6" fill="#ffcdd2"/>
<rect x="1029" y="753" width="3" height="4" fill="#ffcdd2"/>
<rect x="1034" y="753" width="3" height="4" fill="#ffcdd2"/>
<rect x="1039" y="753" width="3" height="3" fill="#ffcdd2"/>
<rect x="1044" y="753" width="3" height="3" fill="#ffcdd2"/>
<rect x="1049" y="753" width="3" height="1" fill="#26a69a"/>
<rect x="1053" y="750" width="3" height="4" fill="#26a69a"/>
<rect x="1058" y="748" width="3" height="6" fill="#26a69a"/>
<rect x="1063" y="746" width="3" height="8" fill="#26a69a"/>
<rect x="1068" y="744" width="3" height="10" fill="#26a69a"/>
<rect x="1073" y="744" width="3" height="10" fill="#26a69a"/>
<rect x="1078" y="744" width="3" height="10" fill="#26a69a"/>
<rect x="1083" y="743" width="3" height="11" fill="#26a69a"/>
<rect x="1087" y="744" width="3" height="10" fill="#b2dfdb"/>
<rect x="1092" y="746" width="3" height="8" fill="#b2dfdb"/>
<rect x="1097" y="748" width="3" height="6" fill="#b2dfdb"/>
<rect x="1102" y="749" width="3" height="5" fill="#b2dfdb"/>
<rect x="1107" y="750" width="3" height="4" fill="#b2dfdb"/>
<rect x="1112" y="751" width="3" height="3" fill="#b2dfdb"/>
<rect x="1117" y="752" width="3" height="2" fill="#b2dfdb"/>
<rect x="1121" y="752" width="3" height="2" fill="#b2dfdb"/>
<rect x="1126" y="753" width="3" height="2" fill="#ff5252"/>
<rect x="1131" y="753" width="3" height="3" fill="#ff5252"/>
<rect x="1136" y="753" width="3" height="6" fill="#ff5252"/>
<rect x="1141" y="753" width="3" height="5" fill="#ffcdd2"/>
<rect x="1146" y="753" width="3" height="4" fill="#ffcdd2"/>
<rect x="1151" y="753" width="3" height="1" fill="#ffcdd2"/>
<rect x="1155" y="751" width="3" height="3" fill="#26a69a"/>
<rect x="1160" y="750" width="3" height="4" fill="#26a69a"/>
<rect x="1165" y="748" width="3" height="6" fill="#26a69a"/>
<rect x="1170" y="745" width="3" height="9" fill="#26a69a"/>
<rect x="1175" y="746" width="3" height="8" fill="#b2dfdb"/>
<rect x="1180" y="748" width="3" height="6" fill="#b2dfdb"/>
<rect x="1185" y="749" width="3" height="5" fill="#b2dfdb"/>
<rect x="1189" y="747" width="3" height="7" fill="#26a69a"/>
<rect x="1194" y="746" width="3" height="8" fill="#26a69a"/>
<rect x="1199" y="743" width="3" height="11" fill="#26a69a"/>
<rect x="1204" y="742" width="3" height="12" fill="#26a69a"/>
<rect x="1209" y="743" width="3" height="11" fill="#b2dfdb"/>
<rect x="1214" y="745" width="3" height="9" fill="#b2dfdb"/>
<rect x="1219" y="747" width="3" height="7" fill="#b2dfdb"/>
<rect x="1223" y="747" width="3" height="7" fill="#26a69a"/>
<rect x="1228" y="748" width="3" height="6" fill="#b2dfdb"/>
<rect x="1233" y="750" width="3" height="4" fill="#b2dfdb"/>
<rect x="1238" y="751" width="3" height="3" fill="#b2dfdb"/>
<rect x="1243" y="752" width="3" height="2" fill="#b2dfdb"/>
<rect x="1248" y="753" width="3" height="2" fill="#ff5252"/>
<rect x="1253" y="753" width="3" height="3" fill="#ff5252"/>
<rect x="1258" y="753" width="3" height="2" fill="#ffcdd2"/>
<rect x="1262" y="751" width="3" height="3" fill="#26a69a"/>
<rect x="1267" y="748" width="3" height="6" fill="#26a69a"/>
<rect x="1272" y="747" width="3" height="7" fill="#26a69a"/>
<rect x="1277" y="748" width="3" height="6" fill="#b2dfdb"/>
<rect x="1282" y="747" width="3" height="7" fill="#26a69a"/>
<rect x="1287" y="746" width="3" height="8" fill="#26a69a"/>
<rect x="1292" y="742" width="3" height="12" fill="#26a69a"/>
<rect x="1296" y="740" width="3" height="14" fill="#26a69a"/>
<rect x="1301" y="742" width="3" height="12" fill="#b2dfdb"/>
<rect x="1306" y="742" width="3" height="12" fill="#26a69a"/>
<rect x="1311" y="742" width="3" height="12" fill="#b2dfdb"/>
<rect x="1316" y="741" width="3" height="13" fill="#26a69a"/>
<rect x="1321" y="739" width="3" height="15" fill="#26a69a"/>
<rect x="1326" y="742" width="3" height="12" fill="#b2dfdb"/>
<rect x="1330" y="747" width="3" height="7" fill="#b2dfdb"/>
<rect x="1335" y="751" width="3" height="3" fill="#b2dfdb"/>
<rect x="1340" y="751" width="3" height="3" fill="#b2dfdb"/>
<rect x="1345" y="753" width="3" height="4" fill="#ff5252"/>
<rect x="1350" y="753" width="3" height="7" fill="#ff5252"/>
<rect x="1355" y="753" width="3" height="12" fill="#ff5252"/>
<rect x="1360" y="753" width="3" height="15" fill="#ff5252"/>
<rect x="1364" y="753" width="3" height="20" fill="#ff5252"/>
<rect x="1369" y="753" width="3" height="21" fill="#ff5252"/>
<rect x="1374" y="753" width="3" height="21" fill="#ffcdd2"/>
<rect x="1379" y="753" width="3" height="18" fill="#ffcdd2"/>
<rect x="1384" y="753" width="3" height="15" fill="#ffcdd2"/>
<rect x="1389" y="753" width="3" height="9" fill="#ffcdd2"/>
<rect x="1394" y="753" width="3" height="7" fill="#ffcdd2"/>
<rect x="1398" y="753" width="3" height="3" fill="#ffcdd2"/>
<rect x="1403" y="753" width="3" height="2" fill="#ffcdd2"/>
<rect x="1408" y="751" width="3" height="3" fill="#26a69a"/>
<rect x="1413" y="750" width="3" height="4" fill="#26a69a"/>
<rect x="1418" y="750" width="3" height="4" fill="#26a69a"/>
<rect x="1423" y="753" width="3" height="2" fill="#ff5252"/>
<rect x="1428" y="753" width="3" height="6" fill="#ff5252"/>
<rect x="1432" y="753" width="3" height="9" fill="#ff5252"/>
<line x1="0" y1="753.5" x2="1485" y2="753.5" stroke="rgba(42,46,57,0.06)"/>
<line x1="1" y1="753.5" x2="1485" y2="753.5" stroke="#9598a1" stroke-dasharray="5 6"/>
<path d="M1.2,764.8 C2.0,765.2 4.3,766.4 6.2,767.0 C8.1,767.6 10.3,768.1 12.4,768.7 C14.5,769.4 16.5,770.2 18.6,770.9 C20.7,771.5 23.1,772.5 24.8,772.6 C26.5,772.7 27.4,772.1 28.7,771.5 C30.0,770.9 31.1,769.8 32.5,768.7 C33.9,767.6 35.4,766.2 37.2,764.7 C39.0,763.2 41.3,761.4 43.4,760.0 C45.5,758.6 47.5,757.5 49.6,756.6 C51.7,755.7 53.7,755.4 55.8,754.8 C57.9,754.2 60.3,753.4 62.0,753.2 C63.7,753.0 64.6,753.5 65.9,753.8 C67.2,754.1 68.4,754.9 69.7,755.2 C71.0,755.5 72.3,755.6 73.6,755.5 C74.9,755.4 76.1,754.9 77.5,754.5 C78.9,754.1 80.5,753.5 82.1,753.2 C83.6,752.9 85.2,752.8 86.8,752.8 C88.3,752.8 89.9,753.1 91.4,753.4 C93.0,753.7 94.5,754.4 96.1,754.5 C97.6,754.6 99.2,754.2 100.7,753.8 C102.2,753.4 103.6,752.6 105.4,752.3 C107.2,751.9 109.5,751.7 111.6,751.7 C113.7,751.7 115.7,752.4 117.8,752.4 C119.9,752.4 122.2,751.7 124.0,751.5 C125.8,751.3 127.0,751.8 128.6,751.2 C130.2,750.6 131.5,749.5 133.3,748.1 C135.1,746.7 137.4,744.4 139.4,742.7 C141.4,741.0 143.5,739.0 145.6,738.0 C147.7,737.0 149.7,736.9 151.8,736.5 C153.9,736.1 155.9,735.9 158.0,735.4 C160.1,734.9 162.4,734.1 164.2,733.8 C166.0,733.5 167.3,733.3 168.9,733.4 C170.5,733.5 171.9,734.0 173.5,734.5 C175.1,735.0 176.4,735.7 178.2,736.2 C180.0,736.7 182.3,737.1 184.4,737.7 C186.5,738.3 188.8,739.4 190.6,739.9 C192.4,740.4 193.6,740.4 195.2,740.8 C196.8,741.2 198.1,741.3 199.9,742.1 C201.7,742.9 204.0,744.5 206.1,745.8 C208.2,747.1 210.5,748.7 212.3,750.1 C214.1,751.5 215.4,753.2 216.9,754.3 C218.4,755.4 219.8,755.9 221.6,756.6 C223.4,757.3 225.7,758.0 227.8,758.6 C229.9,759.2 232.0,759.5 234.0,760.2 C236.0,761.0 237.8,762.4 240.0,763.1 C242.2,763.9 244.9,764.6 247.4,764.7 C249.9,764.8 252.5,764.2 255.1,763.6 C257.7,763.0 260.3,761.7 262.9,761.3 C265.5,760.9 268.0,761.6 270.6,761.3 C273.2,761.0 276.1,760.2 278.4,759.7 C280.7,759.2 282.5,758.7 284.6,758.6 C286.7,758.5 288.7,758.8 290.8,759.3 C292.9,759.8 294.9,760.6 297.0,761.3 C299.1,762.0 301.4,763.1 303.2,763.6 C305.0,764.1 305.7,764.2 307.8,764.1 C309.9,764.0 313.3,763.7 315.6,763.3 C317.9,762.9 319.7,762.3 321.8,761.6 C323.9,760.9 325.9,760.0 328.0,758.9 C330.1,757.8 332.1,756.3 334.2,755.1 C336.3,753.9 338.3,752.6 340.4,751.7 C342.5,750.8 344.5,750.6 346.6,749.7 C348.7,748.9 350.7,747.6 352.8,746.6 C354.9,745.6 356.9,744.4 359.0,743.5 C361.1,742.6 363.1,742.2 365.2,741.4 C367.2,740.6 369.2,739.8 371.3,738.8 C373.4,737.8 375.7,735.9 377.5,735.2 C379.3,734.5 380.6,734.5 382.2,734.6 C383.8,734.7 385.2,735.2 386.8,736.0 C388.4,736.8 389.9,738.4 391.5,739.6 C393.1,740.8 394.6,742.1 396.1,743.1 C397.7,744.1 399.2,745.1 400.8,745.8 C402.4,746.5 403.6,747.0 405.4,747.3 C407.2,747.6 409.5,747.6 411.6,747.6 C413.7,747.6 415.7,747.6 417.8,747.5 C419.9,747.4 421.9,747.3 424.0,747.0 C426.1,746.7 428.4,746.1 430.2,745.8 C432.0,745.5 433.3,745.1 434.9,745.3 C436.4,745.5 437.9,746.4 439.5,746.9 C441.1,747.4 442.1,748.0 444.2,748.4 C446.3,748.8 449.3,749.2 451.9,749.5 C454.5,749.8 457.4,750.1 459.7,750.4 C462.0,750.7 464.1,751.1 465.9,751.2 C467.7,751.3 469.0,751.4 470.5,751.2 C472.0,751.0 473.0,750.7 475.0,750.1 C477.0,749.5 480.1,748.3 482.4,747.6 C484.7,746.9 486.5,746.2 488.6,745.8 C490.7,745.4 492.7,745.6 494.8,745.3 C496.9,745.0 498.9,744.7 501.0,743.8 C503.1,742.9 505.1,741.1 507.2,740.0 C509.3,738.9 511.3,737.9 513.4,736.9 C515.5,735.9 517.5,734.7 519.6,733.8 C521.7,732.9 524.0,732.4 525.8,731.5 C527.6,730.6 528.8,729.8 530.4,728.7 C532.0,727.6 533.5,725.9 535.1,724.9 C536.7,723.9 538.2,723.0 539.7,722.5 C541.2,722.0 542.9,721.9 544.4,721.9 C545.9,721.9 547.3,722.5 549.0,722.5 C550.7,722.5 552.7,721.8 554.4,721.8 C556.1,721.8 557.5,721.8 559.1,722.2 C560.7,722.6 562.0,723.7 563.7,724.1 C565.4,724.5 567.5,724.6 569.2,724.9 C570.9,725.2 572.2,725.2 573.8,725.9 C575.3,726.6 577.0,728.1 578.5,729.0 C580.0,729.9 581.6,730.8 583.1,731.1 C584.6,731.4 586.0,731.2 587.8,730.9 C589.6,730.6 592.2,730.1 594.0,729.4 C595.8,728.6 597.1,727.2 598.6,726.4 C600.1,725.6 601.8,724.8 603.3,724.6 C604.8,724.4 606.4,724.6 607.9,725.0 C609.4,725.4 611.0,726.3 612.5,726.9 C614.0,727.5 615.7,727.8 617.2,728.4 C618.8,729.0 620.2,729.7 621.8,730.6 C623.3,731.5 625.0,732.3 626.5,733.8 C628.0,735.3 629.6,737.6 631.1,739.6 C632.6,741.6 634.2,743.8 635.8,745.8 C637.3,747.8 638.8,749.9 640.4,751.7 C642.0,753.6 643.5,755.2 645.1,756.9 C646.7,758.5 648.2,760.2 649.7,761.6 C651.2,763.0 652.9,764.1 654.4,765.1 C655.9,766.1 657.5,766.6 659.0,767.5 C660.5,768.4 662.2,769.3 663.7,770.3 C665.2,771.2 666.8,772.5 668.3,773.2 C669.8,773.9 671.5,774.2 673.0,774.6 C674.5,775.0 676.1,775.1 677.6,775.7 C679.1,776.3 680.8,777.4 682.3,778.0 C683.8,778.6 685.3,779.1 686.9,779.4 C688.5,779.7 690.0,779.9 691.6,779.9 C693.2,779.9 694.7,779.8 696.2,779.4 C697.8,779.0 699.4,777.8 700.9,777.5 C702.4,777.2 704.0,777.4 705.5,777.4 C707.0,777.4 708.4,777.6 710.0,777.7 C711.6,777.9 713.4,778.4 715.1,778.3 C716.9,778.2 718.6,777.3 720.5,776.9 C722.4,776.5 724.6,776.2 726.7,776.0 C728.8,775.8 731.1,775.8 732.9,775.4 C734.7,775.0 735.7,774.6 737.5,773.7 C739.3,772.8 741.6,771.0 743.7,770.1 C745.8,769.2 747.8,769.0 749.9,768.4 C752.0,767.8 753.9,766.9 756.1,766.4 C758.3,765.9 761.0,765.9 763.1,765.1 C765.2,764.3 766.6,763.0 768.5,761.6 C770.4,760.2 772.9,758.0 774.7,756.9 C776.5,755.8 778.1,755.6 779.4,754.8 C780.7,754.0 781.2,752.7 782.5,752.3 C783.8,751.9 785.6,752.2 787.1,752.4 C788.6,752.6 790.2,753.3 791.8,753.5 C793.3,753.7 794.8,753.7 796.4,753.5 C798.0,753.3 799.3,752.4 801.1,752.4 C802.9,752.4 805.2,753.0 807.3,753.2 C809.4,753.4 811.4,753.5 813.5,753.5 C815.6,753.5 817.6,753.2 819.7,753.1 C821.8,753.0 823.8,752.9 825.9,753.1 C828.0,753.3 830.0,754.0 832.1,754.3 C834.2,754.5 836.2,754.5 838.3,754.6 C840.3,754.7 842.3,754.6 844.4,754.8 C846.5,755.0 848.5,755.5 850.6,755.9 C852.7,756.3 854.7,757.1 856.8,757.4 C858.9,757.7 860.9,757.9 863.0,757.9 C865.1,757.9 867.4,757.7 869.2,757.4 C871.0,757.1 872.4,756.7 873.9,755.9 C875.4,755.1 877.0,754.0 878.5,752.8 C880.0,751.6 881.4,749.8 883.2,748.6 C885.0,747.4 887.5,746.2 889.4,745.5 C891.3,744.8 893.2,744.2 894.8,744.2 C896.3,744.2 897.3,745.2 898.7,745.8 C900.1,746.4 901.5,747.1 903.3,747.8 C905.1,748.4 907.4,749.0 909.5,749.7 C911.6,750.4 913.6,751.4 915.7,752.0 C917.8,752.6 919.8,753.2 921.9,753.5 C924.0,753.8 926.0,753.7 928.1,753.8 C930.2,753.9 932.2,754.1 934.3,754.0 C936.4,753.9 938.7,753.2 940.5,753.1 C942.3,753.0 942.5,753.1 945.0,753.2 C947.5,753.3 952.5,753.6 955.5,753.8 C958.5,754.0 960.6,754.0 963.2,754.3 C965.8,754.6 968.7,755.1 971.0,755.4 C973.3,755.7 975.4,755.6 977.2,755.9 C979.0,756.2 980.2,756.9 981.8,757.1 C983.3,757.4 985.0,756.9 986.5,757.4 C988.0,757.9 989.6,758.9 991.1,760.0 C992.6,761.1 994.2,762.8 995.8,764.1 C997.3,765.4 998.8,766.8 1000.4,767.8 C1002.0,768.8 1003.3,769.3 1005.1,769.8 C1006.9,770.3 1009.2,770.4 1011.3,770.9 C1013.4,771.4 1015.7,772.1 1017.5,772.6 C1019.3,773.1 1020.6,773.6 1022.1,773.7 C1023.6,773.8 1025.2,773.6 1026.8,773.4 C1028.3,773.2 1029.9,772.5 1031.4,772.4 C1033.0,772.3 1034.5,772.9 1036.1,772.9 C1037.6,772.9 1039.2,772.6 1040.7,772.4 C1042.2,772.2 1043.9,772.2 1045.4,771.8 C1047.0,771.4 1048.5,770.6 1050.0,769.8 C1051.5,768.9 1053.2,767.9 1054.7,766.7 C1056.2,765.5 1057.8,764.2 1059.3,762.8 C1060.8,761.4 1062.5,759.6 1064.0,758.2 C1065.5,756.8 1067.0,755.3 1068.6,754.3 C1070.1,753.3 1071.8,753.0 1073.3,752.3 C1074.8,751.6 1076.4,750.9 1077.9,750.1 C1079.4,749.3 1081.0,748.1 1082.5,747.3 C1084.0,746.5 1085.4,745.9 1087.2,745.5 C1089.0,745.1 1091.3,745.0 1093.4,745.0 C1095.5,745.0 1097.5,745.2 1099.6,745.3 C1101.7,745.4 1103.7,745.4 1105.8,745.5 C1107.9,745.6 1109.9,746.0 1112.0,746.2 C1114.1,746.5 1116.1,746.7 1118.2,747.0 C1120.3,747.3 1122.6,747.5 1124.4,747.8 C1126.2,748.1 1127.5,748.3 1129.0,748.9 C1130.5,749.5 1132.3,750.4 1133.7,751.2 C1135.1,752.0 1136.3,753.3 1137.6,753.8 C1138.9,754.3 1140.0,754.3 1141.4,754.3 C1142.8,754.3 1144.5,754.1 1146.1,753.8 C1147.6,753.5 1149.2,753.0 1150.7,752.4 C1152.2,751.8 1153.9,750.7 1155.4,750.0 C1157.0,749.3 1158.5,748.8 1160.0,748.1 C1161.5,747.4 1163.3,746.8 1164.7,745.8 C1166.1,744.8 1167.2,743.6 1168.5,742.4 C1169.8,741.2 1171.1,739.6 1172.4,738.8 C1173.7,738.0 1175.0,737.7 1176.3,737.6 C1177.6,737.5 1178.4,738.0 1180.0,738.1 C1181.6,738.2 1184.4,739.1 1186.1,738.5 C1187.8,737.9 1188.8,735.8 1190.4,734.7 C1192.0,733.6 1193.8,733.1 1195.5,731.8 C1197.2,730.5 1199.0,728.6 1200.7,727.0 C1202.4,725.4 1204.2,723.5 1205.8,722.4 C1207.4,721.3 1208.5,720.8 1210.1,720.5 C1211.7,720.2 1213.5,720.3 1215.2,720.4 C1216.9,720.5 1218.7,721.2 1220.3,721.0 C1221.9,720.8 1223.0,719.4 1224.6,719.0 C1226.2,718.6 1228.0,718.4 1229.7,718.5 C1231.4,718.6 1233.2,719.4 1234.9,719.7 C1236.6,720.0 1238.3,719.8 1240.0,720.2 C1241.7,720.7 1243.5,721.8 1245.1,722.4 C1246.7,723.0 1248.0,723.7 1249.4,724.1 C1250.8,724.5 1252.1,724.9 1253.7,724.8 C1255.3,724.7 1257.1,724.4 1258.8,723.6 C1260.5,722.8 1262.3,721.6 1264.0,720.2 C1265.7,718.8 1267.4,716.5 1269.1,715.4 C1270.8,714.3 1272.6,714.1 1274.2,713.7 C1275.8,713.3 1276.9,713.4 1278.5,712.8 C1280.1,712.2 1282.0,710.8 1283.6,709.9 C1285.2,709.0 1286.3,708.7 1287.9,707.3 C1289.5,705.9 1291.3,703.2 1293.0,701.4 C1294.7,699.5 1296.6,697.3 1298.2,696.2 C1299.8,695.1 1300.9,695.7 1302.5,695.0 C1304.1,694.3 1306.0,692.9 1307.6,692.0 C1309.2,691.1 1310.3,690.7 1311.9,689.4 C1313.5,688.1 1315.3,685.9 1317.0,684.3 C1318.7,682.6 1320.2,680.2 1321.8,679.5 C1323.4,678.8 1324.8,679.5 1326.4,680.0 C1328.0,680.5 1329.8,681.6 1331.5,682.5 C1333.2,683.4 1335.0,684.9 1336.7,685.5 C1338.4,686.1 1340.2,685.0 1341.8,686.0 C1343.4,687.0 1344.5,689.8 1346.1,691.6 C1347.7,693.4 1349.5,694.7 1351.2,696.7 C1352.9,698.7 1354.7,701.0 1356.4,703.4 C1358.1,705.8 1359.8,708.1 1361.5,710.8 C1363.2,713.4 1364.9,716.8 1366.6,719.3 C1368.3,721.8 1370.0,724.0 1371.7,725.8 C1373.4,727.6 1375.2,729.0 1376.9,730.1 C1378.6,731.2 1380.6,732.0 1382.0,732.3 C1383.4,732.5 1384.0,732.2 1385.4,731.6 C1386.8,731.0 1388.9,729.1 1390.6,728.4 C1392.3,727.7 1394.0,728.1 1395.7,727.4 C1397.4,726.7 1399.1,724.9 1400.8,724.1 C1402.5,723.3 1404.3,723.5 1406.0,722.7 C1407.7,721.9 1409.4,720.1 1411.1,719.3 C1412.8,718.4 1414.9,717.9 1416.2,717.6 C1417.5,717.3 1417.7,716.7 1418.8,717.3 C1419.9,717.9 1421.5,719.4 1423.1,721.0 C1424.7,722.6 1426.4,725.1 1428.2,726.7 C1430.0,728.3 1432.8,730.1 1433.7,730.8" fill="none" stroke="#2962ff" stroke-width="1.1" shape-rendering="geometricPrecision"/>
<path d="M1.2,764.4 C2.3,764.6 5.3,765.2 7.7,765.6 C10.1,766.0 12.9,766.5 15.5,767.0 C18.1,767.5 20.9,768.1 23.2,768.4 C25.5,768.7 27.3,769.0 29.4,769.0 C31.5,769.0 33.5,768.5 35.6,768.1 C37.7,767.7 39.5,767.1 41.8,766.4 C44.1,765.6 47.3,764.4 49.6,763.6 C51.9,762.8 53.7,762.3 55.8,761.6 C57.9,760.9 59.9,760.2 62.0,759.6 C64.1,759.0 66.1,758.6 68.2,758.3 C70.3,758.0 72.3,757.9 74.4,757.6 C76.5,757.3 78.5,756.9 80.6,756.6 C82.7,756.3 84.7,756.1 86.8,755.9 C88.9,755.7 90.9,755.3 93.0,755.2 C95.1,755.1 97.1,755.2 99.2,755.1 C101.3,755.0 103.3,754.5 105.4,754.3 C107.5,754.1 109.5,753.9 111.6,753.7 C113.7,753.5 115.7,753.4 117.8,753.2 C119.9,753.1 121.9,752.9 124.0,752.8 C126.1,752.7 128.1,752.6 130.2,752.4 C132.2,752.2 134.2,752.3 136.3,751.7 C138.4,751.1 140.4,749.9 142.5,748.9 C144.6,747.9 146.6,746.5 148.7,745.5 C150.8,744.5 152.8,743.8 154.9,743.1 C157.0,742.4 159.0,741.7 161.1,741.1 C163.2,740.5 165.2,739.8 167.3,739.3 C169.4,738.8 171.4,738.3 173.5,738.0 C175.6,737.7 177.6,737.6 179.7,737.6 C181.8,737.6 183.8,737.8 185.9,737.9 C188.0,738.0 190.0,738.1 192.1,738.3 C194.2,738.5 196.2,738.9 198.3,739.3 C200.4,739.7 202.4,740.0 204.5,740.5 C206.6,741.0 208.6,741.6 210.7,742.4 C212.8,743.1 214.8,744.1 216.9,745.0 C219.0,745.9 221.0,746.9 223.1,747.8 C225.2,748.7 227.2,749.5 229.3,750.4 C231.4,751.3 233.7,752.2 235.5,753.1 C237.3,754.0 238.0,754.6 240.0,755.5 C242.0,756.4 244.9,757.5 247.4,758.2 C249.9,758.9 252.5,759.3 255.1,759.7 C257.7,760.1 260.3,760.5 262.9,760.7 C265.5,760.9 268.0,760.9 270.6,760.8 C273.2,760.7 275.8,760.4 278.4,760.2 C281.0,760.0 283.5,759.7 286.1,759.7 C288.7,759.7 291.3,759.7 293.9,760.0 C296.5,760.3 299.0,761.0 301.6,761.3 C304.2,761.6 306.8,761.8 309.4,762.0 C312.0,762.2 314.8,762.5 317.1,762.5 C319.4,762.5 321.2,762.4 323.3,762.2 C325.4,762.0 327.4,761.8 329.5,761.3 C331.6,760.8 333.4,760.1 335.7,759.3 C338.0,758.5 340.9,757.4 343.5,756.6 C346.1,755.8 348.6,755.1 351.2,754.3 C353.8,753.5 356.4,752.7 359.0,751.7 C361.6,750.8 364.1,749.7 366.7,748.6 C369.3,747.5 372.1,746.0 374.4,745.0 C376.7,744.0 378.8,743.0 380.6,742.4 C382.4,741.8 383.8,741.4 385.3,741.1 C386.9,740.8 388.1,740.7 389.9,740.7 C391.7,740.8 394.0,741.1 396.1,741.4 C398.2,741.7 400.0,742.2 402.3,742.7 C404.6,743.2 407.5,743.8 410.1,744.2 C412.7,744.6 415.2,745.0 417.8,745.2 C420.4,745.4 423.3,745.5 425.6,745.5 C427.9,745.5 430.0,745.2 431.8,745.3 C433.6,745.3 434.3,745.6 436.4,745.8 C438.5,746.0 441.6,746.4 444.2,746.7 C446.8,747.0 449.3,747.3 451.9,747.6 C454.5,747.9 457.1,748.2 459.7,748.4 C462.3,748.6 464.4,748.9 467.4,749.0 C470.4,749.1 474.7,749.4 477.7,749.3 C480.7,749.2 482.9,748.9 485.5,748.6 C488.1,748.3 490.6,747.9 493.2,747.6 C495.8,747.3 498.4,747.1 501.0,746.6 C503.6,746.1 506.1,745.4 508.7,744.7 C511.3,744.0 513.9,743.1 516.5,742.2 C519.1,741.4 521.6,740.6 524.2,739.6 C526.8,738.6 529.4,737.6 532.0,736.5 C534.6,735.4 537.1,734.0 539.7,732.9 C542.3,731.8 545.2,730.6 547.5,729.7 C549.8,728.8 551.6,728.3 553.7,727.7 C555.8,727.1 557.8,726.6 559.9,726.3 C562.0,726.0 564.0,725.9 566.1,725.8 C568.2,725.7 570.2,725.5 572.3,725.6 C574.4,725.7 576.4,726.1 578.5,726.4 C580.6,726.7 582.6,727.2 584.7,727.5 C586.8,727.8 588.8,728.1 590.9,728.1 C593.0,728.1 595.0,728.0 597.1,727.8 C599.2,727.6 601.2,727.2 603.3,727.0 C605.3,726.8 607.3,726.6 609.4,726.6 C611.5,726.6 613.5,726.6 615.6,726.7 C617.7,726.8 619.7,726.9 621.8,727.3 C623.9,727.7 625.9,728.2 628.0,729.0 C630.1,729.8 632.1,730.9 634.2,732.1 C636.3,733.4 638.3,734.9 640.4,736.5 C642.5,738.1 644.5,740.0 646.6,741.9 C648.7,743.8 650.7,745.7 652.8,747.6 C654.9,749.5 656.9,751.7 659.0,753.5 C661.1,755.3 663.1,757.1 665.2,758.5 C667.3,759.9 669.3,760.9 671.4,762.0 C673.5,763.1 675.5,764.1 677.6,765.1 C679.7,766.1 681.7,767.2 683.8,768.2 C685.9,769.2 687.9,770.5 690.0,771.3 C692.1,772.1 694.1,772.7 696.2,773.2 C698.3,773.7 699.6,774.0 702.4,774.4 C705.1,774.8 709.7,775.4 712.7,775.7 C715.7,776.0 717.9,776.1 720.5,776.1 C723.1,776.1 725.6,776.1 728.2,776.0 C730.8,775.9 733.4,775.8 736.0,775.5 C738.6,775.2 741.1,774.6 743.7,774.0 C746.3,773.4 748.9,772.7 751.5,772.1 C754.1,771.5 756.6,770.9 759.2,770.3 C761.8,769.6 764.4,769.0 767.0,768.2 C769.6,767.4 772.1,766.5 774.7,765.5 C777.3,764.5 779.9,763.0 782.5,762.0 C785.1,761.0 787.6,760.1 790.2,759.3 C792.8,758.5 795.4,757.7 798.0,757.1 C800.6,756.5 803.1,756.2 805.7,755.9 C808.3,755.6 810.9,755.3 813.5,755.1 C816.1,754.9 818.6,754.7 821.2,754.5 C823.8,754.3 826.4,754.1 829.0,754.1 C831.6,754.1 834.1,754.2 836.7,754.3 C839.3,754.4 841.8,754.4 844.4,754.5 C847.0,754.6 849.6,754.9 852.2,755.1 C854.8,755.3 857.3,755.7 859.9,755.9 C862.5,756.1 865.4,756.2 867.7,756.2 C870.0,756.2 871.8,756.2 873.9,755.9 C876.0,755.6 878.0,755.1 880.1,754.6 C882.2,754.1 884.2,753.5 886.3,752.8 C888.4,752.1 890.4,751.0 892.5,750.4 C894.6,749.8 896.6,749.4 898.7,749.2 C900.8,749.0 902.8,749.0 904.9,749.0 C907.0,749.0 908.8,749.3 911.1,749.5 C913.4,749.7 916.2,750.1 918.8,750.4 C921.4,750.7 924.0,751.2 926.6,751.5 C929.2,751.8 932.0,752.1 934.3,752.3 C936.6,752.4 938.3,752.4 940.5,752.4 C942.7,752.4 945.2,752.3 947.7,752.4 C950.2,752.5 952.9,752.7 955.5,752.8 C958.1,752.9 960.6,753.0 963.2,753.2 C965.8,753.4 968.4,753.6 971.0,753.8 C973.6,754.0 976.1,754.3 978.7,754.6 C981.3,754.9 983.9,754.9 986.5,755.4 C989.1,755.9 991.6,756.8 994.2,757.7 C996.8,758.6 999.4,759.8 1002.0,760.8 C1004.6,761.8 1007.1,762.7 1009.7,763.6 C1012.3,764.5 1014.9,765.4 1017.5,766.2 C1020.1,767.0 1022.6,767.7 1025.2,768.2 C1027.8,768.8 1030.4,769.1 1033.0,769.5 C1035.6,769.9 1038.1,770.2 1040.7,770.4 C1043.3,770.6 1046.2,770.7 1048.5,770.6 C1050.8,770.5 1052.6,770.2 1054.7,769.8 C1056.8,769.3 1058.8,768.7 1060.9,767.9 C1063.0,767.1 1065.0,766.1 1067.1,765.1 C1069.2,764.1 1071.2,763.0 1073.3,762.0 C1075.3,761.0 1077.4,759.9 1079.4,758.9 C1081.5,757.9 1083.5,756.9 1085.6,755.9 C1087.7,754.9 1089.7,753.9 1091.8,753.1 C1093.9,752.3 1095.9,751.8 1098.0,751.2 C1100.1,750.6 1102.1,750.1 1104.2,749.7 C1106.3,749.3 1108.3,749.1 1110.4,748.9 C1112.5,748.7 1114.5,748.5 1116.6,748.3 C1118.7,748.1 1120.7,747.9 1122.8,747.9 C1124.9,747.9 1126.9,748.1 1129.0,748.4 C1131.1,748.7 1133.1,749.3 1135.2,749.7 C1137.3,750.1 1139.3,750.6 1141.4,750.9 C1143.5,751.2 1145.5,751.5 1147.6,751.5 C1149.7,751.5 1151.7,751.4 1153.8,751.2 C1155.9,751.0 1157.9,750.6 1160.0,750.1 C1162.1,749.6 1164.1,749.1 1166.2,748.4 C1168.3,747.7 1170.1,746.5 1172.4,745.8 C1174.7,745.1 1177.7,744.7 1180.0,744.1 C1182.3,743.5 1184.1,743.0 1186.1,742.4 C1188.1,741.8 1189.9,741.1 1192.1,740.2 C1194.2,739.3 1196.7,738.0 1199.0,736.9 C1201.3,735.8 1203.5,734.5 1205.8,733.4 C1208.1,732.3 1210.3,731.1 1212.6,730.1 C1214.9,729.1 1217.2,728.3 1219.5,727.5 C1221.8,726.7 1224.0,725.9 1226.3,725.3 C1228.6,724.7 1230.9,724.2 1233.2,723.8 C1235.5,723.4 1237.7,723.1 1240.0,722.9 C1242.3,722.7 1244.6,722.6 1246.9,722.7 C1249.2,722.8 1251.7,723.2 1253.7,723.4 C1255.7,723.5 1257.1,723.7 1258.8,723.6 C1260.5,723.5 1262.0,723.1 1264.0,722.7 C1266.0,722.3 1268.5,721.6 1270.8,721.0 C1273.1,720.4 1275.4,719.7 1277.7,719.0 C1280.0,718.3 1282.2,717.6 1284.5,716.6 C1286.8,715.6 1289.0,714.5 1291.3,713.3 C1293.6,712.0 1295.9,710.5 1298.2,709.1 C1300.5,707.7 1302.7,706.5 1305.0,705.1 C1307.3,703.7 1309.6,702.3 1311.9,700.8 C1314.2,699.3 1316.4,697.7 1318.7,696.2 C1321.0,694.7 1323.3,693.1 1325.6,692.0 C1327.9,690.9 1330.1,690.0 1332.4,689.4 C1334.7,688.8 1337.2,688.6 1339.2,688.5 C1341.2,688.4 1342.7,688.3 1344.4,688.5 C1346.1,688.7 1347.8,689.3 1349.5,689.9 C1351.2,690.5 1352.9,691.1 1354.6,692.0 C1356.3,692.9 1358.1,694.1 1359.8,695.4 C1361.5,696.7 1363.2,698.1 1364.9,699.7 C1366.6,701.3 1368.3,703.1 1370.0,704.8 C1371.7,706.5 1373.5,708.2 1375.2,709.9 C1376.9,711.5 1378.6,713.3 1380.3,714.7 C1382.0,716.1 1383.7,717.5 1385.4,718.5 C1387.1,719.5 1388.9,720.1 1390.6,720.7 C1392.3,721.3 1394.0,721.8 1395.7,722.1 C1397.4,722.4 1399.1,722.6 1400.8,722.7 C1402.5,722.8 1404.3,722.8 1406.0,722.7 C1407.7,722.6 1409.4,722.2 1411.1,721.9 C1412.8,721.6 1414.5,721.2 1416.2,720.9 C1417.9,720.6 1419.7,720.2 1421.4,720.2 C1423.1,720.2 1424.5,720.4 1426.5,721.0 C1428.5,721.6 1432.5,723.2 1433.7,723.6" fill="none" stroke="#ff6d00" stroke-width="1.1" shape-rendering="geometricPrecision"/>
<rect x="1485" y="0" width="64" height="666" fill="#fff"/>
<rect x="1485" y="667" width="64" height="155" fill="#fff"/>
<rect x="0" y="791" width="1549" height="31" fill="#fff"/>
<g shape-rendering="geometricPrecision" text-rendering="geometricPrecision" opacity="0.999">
<text x="1494.2" y="621.95" font-size="12.6" fill="#131722" font-weight="normal" text-anchor="start" textLength="29.2" lengthAdjust="spacingAndGlyphs" >3,500</text>
<text x="1494.2" y="589.95" font-size="12.6" fill="#131722" font-weight="normal" text-anchor="start" textLength="29.2" lengthAdjust="spacingAndGlyphs" >3,600</text>
<text x="1494.2" y="556.95" font-size="12.6" fill="#131722" font-weight="normal" text-anchor="start" textLength="29.2" lengthAdjust="spacingAndGlyphs" >3,700</text>
<text x="1494.2" y="524.95" font-size="12.6" fill="#131722" font-weight="normal" text-anchor="start" textLength="29.2" lengthAdjust="spacingAndGlyphs" >3,800</text>
<text x="1494.2" y="491.95" font-size="12.6" fill="#131722" font-weight="normal" text-anchor="start" textLength="29.2" lengthAdjust="spacingAndGlyphs" >3,900</text>
<text x="1494.2" y="459.95" font-size="12.6" fill="#131722" font-weight="normal" text-anchor="start" textLength="29.2" lengthAdjust="spacingAndGlyphs" >4,000</text>
<text x="1494.2" y="426.95" font-size="12.6" fill="#131722" font-weight="normal" text-anchor="start" textLength="29.2" lengthAdjust="spacingAndGlyphs" >4,100</text>
<text x="1494.2" y="394.95" font-size="12.6" fill="#131722" font-weight="normal" text-anchor="start" textLength="29.2" lengthAdjust="spacingAndGlyphs" >4,200</text>
<text x="1494.2" y="361.95" font-size="12.6" fill="#131722" font-weight="normal" text-anchor="start" textLength="29.2" lengthAdjust="spacingAndGlyphs" >4,300</text>
<text x="1494.2" y="329.95" font-size="12.6" fill="#131722" font-weight="normal" text-anchor="start" textLength="29.2" lengthAdjust="spacingAndGlyphs" >4,400</text>
<text x="1494.2" y="296.95" font-size="12.6" fill="#131722" font-weight="normal" text-anchor="start" textLength="29.2" lengthAdjust="spacingAndGlyphs" >4,500</text>
<text x="1494.2" y="264.95" font-size="12.6" fill="#131722" font-weight="normal" text-anchor="start" textLength="29.2" lengthAdjust="spacingAndGlyphs" >4,600</text>
<text x="1494.2" y="198.95" font-size="12.6" fill="#131722" font-weight="normal" text-anchor="start" textLength="29.2" lengthAdjust="spacingAndGlyphs" >4,800</text>
<text x="1494.2" y="133.95" font-size="12.6" fill="#131722" font-weight="normal" text-anchor="start" textLength="29.2" lengthAdjust="spacingAndGlyphs" >5,000</text>
<text x="1494.2" y="101.95" font-size="12.6" fill="#131722" font-weight="normal" text-anchor="start" textLength="29.2" lengthAdjust="spacingAndGlyphs" >5,100</text>
<text x="1494.2" y="68.95" font-size="12.6" fill="#131722" font-weight="normal" text-anchor="start" textLength="29.2" lengthAdjust="spacingAndGlyphs" >5,200</text>
<text x="1494.3" y="695.5" font-size="12.6" fill="#131722" font-weight="normal" text-anchor="start" textLength="18.2" lengthAdjust="spacingAndGlyphs" >200</text>
<text x="1494.3" y="726.5" font-size="12.6" fill="#131722" font-weight="normal" text-anchor="start" textLength="18.2" lengthAdjust="spacingAndGlyphs" >100</text>
<text x="1494.3" y="757.5" font-size="12.6" fill="#131722" font-weight="normal" text-anchor="start" textLength="5.9" lengthAdjust="spacingAndGlyphs" >0</text>
<text x="1494.3" y="788.5" font-size="12.6" fill="#131722" font-weight="normal" text-anchor="start" textLength="24.5" lengthAdjust="spacingAndGlyphs" >−100</text>
<rect x="1501.2" y="654.8" width="1.4" height="1.2" fill="#131722" fill-opacity="0.75"/>
<path d="M1486,157H1544a2,2 0 0 1 2,2V171.9a2,2 0 0 1 -2,2H1486Z" fill="#089981"/>
<text x="1495" y="169.85" font-size="12.6" fill="#fff" fill-opacity="0.8" font-weight="bold" textLength="45.4" lengthAdjust="spacingAndGlyphs">10:18:27</text>
<path d="M1486,215.9H1526.8a2,2 0 0 1 2,2V230.70000000000002a2,2 0 0 1 -2,2H1486Z" fill="#f23645"/>
<text x="1493.6" y="227.8" font-size="12.6" fill="#fff" fill-opacity="1" font-weight="bold" textLength="29.5" lengthAdjust="spacingAndGlyphs">4,713</text>
<path d="M1486,398H1526.8a2,2 0 0 1 2,2V412.8a2,2 0 0 1 -2,2H1486Z" fill="#2962ff"/>
<text x="1493.6" y="409.9" font-size="12.6" fill="#fff" fill-opacity="1" font-weight="bold" textLength="29.5" lengthAdjust="spacingAndGlyphs">4,151</text>
<path d="M1486,638.1H1529.7a2,2 0 0 1 2,2V652.8000000000001a2,2 0 0 1 -2,2H1486Z" fill="#26a69a"/>
<text x="1493.9" y="650.85" font-size="12.6" fill="#fff" fill-opacity="1" font-weight="bold" textLength="32.5" lengthAdjust="spacingAndGlyphs">8.42 K</text>
<path d="M1486,706H1510a2,2 0 0 1 2,2V721.1a2,2 0 0 1 -2,2H1486Z" fill="#ff6d00"/>
<text x="1494.4" y="718.5" font-size="12.6" fill="#fff" fill-opacity="1" font-weight="bold" textLength="12.2" lengthAdjust="spacingAndGlyphs">95</text>
<path d="M1486,723.1H1510a2,2 0 0 1 2,2V737.8000000000001a2,2 0 0 1 -2,2H1486Z" fill="#2962ff"/>
<text x="1494.4" y="735.6" font-size="12.6" fill="#fff" fill-opacity="1" font-weight="bold" textLength="11.8" lengthAdjust="spacingAndGlyphs">72</text>
<path d="M1486,752.9H1515.9a2,2 0 0 1 2,2V767.6a2,2 0 0 1 -2,2H1486Z" fill="#ff5252"/>
<text x="1494.4" y="765.4" font-size="12.6" fill="#fff" fill-opacity="1" font-weight="bold" textLength="18.1" lengthAdjust="spacingAndGlyphs">−23</text>
<rect x="1489.5" y="2" width="57.5" height="49.5" rx="4" fill="#fff" stroke="#eceef3" stroke-width="2"/>
<text x="1497.8" y="19.9" font-size="13.6" fill="#131722" font-weight="normal" text-anchor="start" textLength="26.5" lengthAdjust="spacingAndGlyphs" >MYR</text>
<text x="1498" y="44.6" font-size="12.8" fill="#131722" font-weight="normal" text-anchor="start" textLength="5" lengthAdjust="spacingAndGlyphs" >t</text>
<text x="9" y="16.6" font-size="12.5" fill="#131722" font-weight="normal" text-anchor="start" textLength="175.5" lengthAdjust="spacingAndGlyphs" >Crude Palm Oil Futures, 1D, MYX</text>
<text x="192" y="16.6" font-size="12.5" fill="#131722" font-weight="normal" text-anchor="start" textLength="7.2" lengthAdjust="spacingAndGlyphs" >O</text>
<text x="200" y="16.6" font-size="12.5" fill="#089981" font-weight="normal" text-anchor="start" textLength="29.2" lengthAdjust="spacingAndGlyphs" >4,858</text>
<text x="237" y="16.6" font-size="12.5" fill="#131722" font-weight="normal" text-anchor="start" textLength="7" lengthAdjust="spacingAndGlyphs" >H</text>
<text x="244.8" y="16.6" font-size="12.5" fill="#089981" font-weight="normal" text-anchor="start" textLength="28.8" lengthAdjust="spacingAndGlyphs" >4,907</text>
<text x="282" y="16.6" font-size="12.5" fill="#131722" font-weight="normal" text-anchor="start" textLength="4.7" lengthAdjust="spacingAndGlyphs" >L</text>
<text x="287.5" y="16.6" font-size="12.5" fill="#089981" font-weight="normal" text-anchor="start" textLength="28.5" lengthAdjust="spacingAndGlyphs" >4,858</text>
<text x="324.3" y="16.6" font-size="12.5" fill="#131722" font-weight="normal" text-anchor="start" textLength="6.5" lengthAdjust="spacingAndGlyphs" >C</text>
<text x="331.6" y="16.6" font-size="12.5" fill="#089981" font-weight="normal" text-anchor="start" textLength="27.9" lengthAdjust="spacingAndGlyphs" >4,893</text>
<text x="368.6" y="16.6" font-size="12.5" fill="#089981" font-weight="normal" text-anchor="start" textLength="18" lengthAdjust="spacingAndGlyphs" >+37</text>
<text x="391.3" y="16.6" font-size="12.5" fill="#089981" font-weight="normal" text-anchor="start" textLength="44.4" lengthAdjust="spacingAndGlyphs" >(+0.76%)</text>
<text x="9" y="33.7" font-size="12.5" fill="#131722" font-weight="normal" text-anchor="start" textLength="16" lengthAdjust="spacingAndGlyphs" >Vol</text>
<text x="32.7" y="33.7" font-size="12.5" fill="#26a69a" font-weight="normal" text-anchor="start" textLength="31.9" lengthAdjust="spacingAndGlyphs" >8.42 K</text>
<text x="9" y="50.8" font-size="12.5" fill="#131722" font-weight="normal" text-anchor="start" textLength="87.2" lengthAdjust="spacingAndGlyphs" >SMA (200, close)</text>
<text x="104.3" y="50.8" font-size="12.5" fill="#2962ff" font-weight="normal" text-anchor="start" textLength="28.2" lengthAdjust="spacingAndGlyphs" >4,151</text>
<text x="9" y="67.6" font-size="12.5" fill="#131722" font-weight="normal" text-anchor="start" textLength="81.4" lengthAdjust="spacingAndGlyphs" >SMA (50, close)</text>
<text x="98.2" y="67.6" font-size="12.5" fill="#f23645" font-weight="normal" text-anchor="start" textLength="29.1" lengthAdjust="spacingAndGlyphs" >4,713</text>
<text x="9" y="685.5" font-size="12.5" fill="#131722" font-weight="normal" text-anchor="start" textLength="111" lengthAdjust="spacingAndGlyphs" >MACD (12, 26, close)</text>
<text x="127" y="685.5" font-size="12.5" fill="#ff5252" font-weight="normal" text-anchor="start" textLength="19" lengthAdjust="spacingAndGlyphs" >−23</text>
<text x="153" y="685.5" font-size="12.5" fill="#2962ff" font-weight="normal" text-anchor="start" textLength="12.5" lengthAdjust="spacingAndGlyphs" >72</text>
<text x="173" y="685.5" font-size="12.5" fill="#ff6d00" font-weight="normal" text-anchor="start" textLength="12.5" lengthAdjust="spacingAndGlyphs" >95</text>
<text x="87.8" y="809.2" font-size="12.4" fill="#131722" font-weight="normal" text-anchor="start" textLength="19.5" lengthAdjust="spacingAndGlyphs" >Nov</text>
<text x="190.9" y="809.2" font-size="12.4" fill="#131722" font-weight="normal" text-anchor="start" textLength="19.1" lengthAdjust="spacingAndGlyphs" >Dec</text>
<text x="284.1" y="809.2" font-size="12.4" fill="#131722" font-weight="bold" text-anchor="start" textLength="26.9" lengthAdjust="spacingAndGlyphs" >2024</text>
<text x="390.1" y="809.2" font-size="12.4" fill="#131722" font-weight="normal" text-anchor="start" textLength="18.8" lengthAdjust="spacingAndGlyphs" >Feb</text>
<text x="482.1" y="809.2" font-size="12.4" fill="#131722" font-weight="normal" text-anchor="start" textLength="18.8" lengthAdjust="spacingAndGlyphs" >Mar</text>
<text x="579.1" y="809.2" font-size="12.4" fill="#131722" font-weight="normal" text-anchor="start" textLength="18.8" lengthAdjust="spacingAndGlyphs" >Apr</text>
<text x="676.5" y="809.2" font-size="12.4" fill="#131722" font-weight="normal" text-anchor="start" textLength="20.1" lengthAdjust="spacingAndGlyphs" >May</text>
<text x="779.2" y="809.2" font-size="12.4" fill="#131722" font-weight="normal" text-anchor="start" textLength="18.5" lengthAdjust="spacingAndGlyphs" >Jun</text>
<text x="868.1" y="809.2" font-size="12.4" fill="#131722" font-weight="normal" text-anchor="start" textLength="14.8" lengthAdjust="spacingAndGlyphs" >Jul</text>
<text x="973.0" y="809.2" font-size="12.4" fill="#131722" font-weight="normal" text-anchor="start" textLength="19.1" lengthAdjust="spacingAndGlyphs" >Aug</text>
<text x="1080.1" y="809.2" font-size="12.4" fill="#131722" font-weight="normal" text-anchor="start" textLength="18.8" lengthAdjust="spacingAndGlyphs" >Sep</text>
<text x="1177.5" y="809.2" font-size="12.4" fill="#131722" font-weight="normal" text-anchor="start" textLength="18.1" lengthAdjust="spacingAndGlyphs" >Oct</text>
<text x="1283.8" y="809.2" font-size="12.4" fill="#131722" font-weight="normal" text-anchor="start" textLength="19.4" lengthAdjust="spacingAndGlyphs" >Nov</text>
<text x="1386.2" y="809.2" font-size="12.4" fill="#131722" font-weight="normal" text-anchor="start" textLength="18.6" lengthAdjust="spacingAndGlyphs" >Dec</text>
<text x="1472.5" y="809.2" font-size="12.4" fill="#131722" font-weight="normal" text-anchor="start" textLength="12.1" lengthAdjust="spacingAndGlyphs" >26</text>
</g>
<rect x="0" y="818" width="1549" height="2" fill="#eff1f5"/>
<rect x="0" y="0" width="2" height="820" fill="#eff1f5"/>
<rect x="1" y="548" width="1" height="6" fill="#62b5a6"/>
<rect x="1" y="616" width="1" height="50" fill="#bfe0dc"/>
</svg></div></body></html>
